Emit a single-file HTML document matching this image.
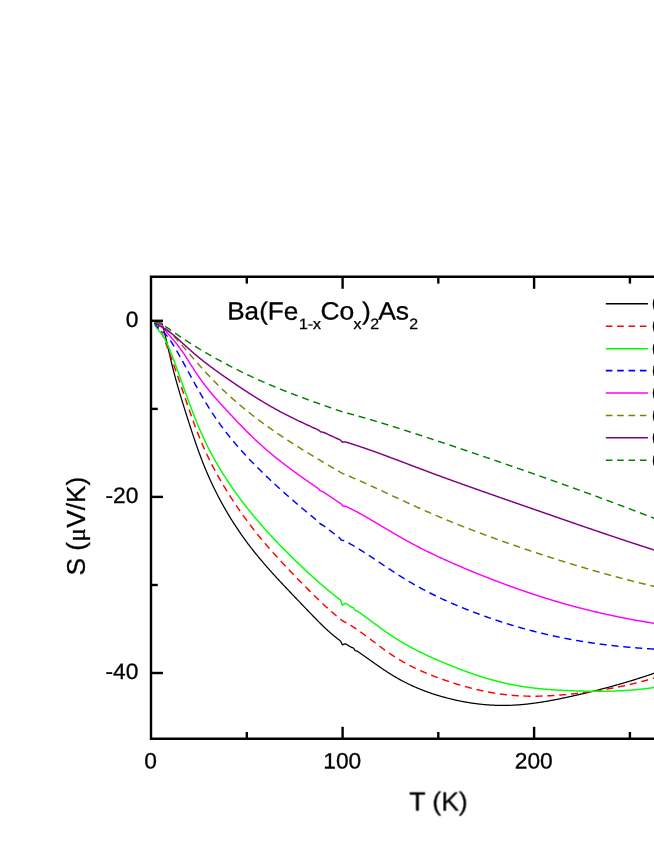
<!DOCTYPE html>
<html><head><meta charset="utf-8"><title>chart</title>
<style>html,body{margin:0;padding:0;background:#fff;overflow:hidden}svg{display:block}.t{filter:grayscale(1)}text{font-family:"Liberation Sans",sans-serif;fill:#000;stroke:#000;stroke-width:0.3px}</style></head>
<body>
<svg width="654" height="846" viewBox="0 0 654 846">
<rect width="654" height="846" fill="#fff"/>
<g fill="none" stroke-width="1.45" stroke-linejoin="round">
<path d="M161.5,322.45 L162.0,323.83 L162.5,325.37 L163.0,327.03 L163.5,328.80 L164.0,330.67 L164.5,332.61 L165.0,334.63 L165.5,336.70 L166.0,338.81 L166.5,340.96 L167.0,343.13 L167.5,345.32 L168.0,347.53 L168.5,349.73 L169.0,351.93 L169.5,354.12 L170.0,356.29 L170.5,358.45 L171.0,360.58 L171.5,362.68 L172.0,364.75 L172.5,366.78 L173.0,368.77 L173.5,370.74 L174.0,372.67 L174.5,374.57 L175.0,376.44 L175.5,378.29 L176.0,380.12 L176.5,381.92 L177.0,383.70 L177.5,385.46 L178.0,387.20 L178.5,388.93 L179.0,390.64 L179.5,392.33 L180.0,394.01 L180.5,395.68 L181.0,397.34 L181.5,398.99 L182.0,400.62 L182.5,402.25 L183.0,403.87 L183.5,405.48 L184.0,407.08 L184.5,408.68 L185.0,410.28 L185.5,411.87 L186.0,413.45 L186.5,415.03 L187.0,416.61 L187.5,418.19 L188.0,419.76 L188.5,421.32 L189.0,422.88 L189.5,424.43 L190.0,425.98 L190.5,427.52 L191.0,429.06 L191.5,430.58 L192.0,432.10 L192.5,433.61 L193.0,435.11 L193.5,436.60 L194.0,438.09 L194.5,439.56 L195.0,441.02 L195.5,442.48 L196.0,443.92 L196.5,445.36 L197.0,446.78 L197.5,448.19 L198.0,449.59 L198.5,450.98 L199.0,452.36 L199.5,453.72 L200.0,455.08 L200.5,456.42 L201.0,457.75 L201.5,459.06 L202.0,460.37 L202.5,461.66 L203.0,462.94 L203.5,464.20 L204.0,465.45 L204.5,466.69 L205.0,467.91 L205.5,469.13 L206.0,470.33 L206.5,471.51 L207.0,472.69 L207.5,473.85 L208.0,475.01 L208.5,476.15 L209.0,477.28 L209.5,478.40 L210.0,479.51 L210.5,480.61 L211.0,481.70 L211.5,482.77 L212.0,483.84 L212.5,484.90 L213.0,485.95 L213.5,487.00 L214.0,488.03 L214.5,489.05 L215.0,490.07 L215.5,491.07 L216.0,492.07 L216.5,493.06 L217.0,494.04 L217.5,495.02 L218.0,495.99 L218.5,496.95 L219.0,497.90 L219.5,498.84 L220.0,499.78 L220.5,500.71 L221.0,501.64 L221.5,502.55 L222.0,503.46 L222.5,504.37 L223.0,505.27 L223.5,506.16 L224.0,507.04 L224.5,507.92 L225.0,508.80 L225.5,509.67 L226.0,510.53 L226.5,511.39 L227.0,512.24 L227.5,513.09 L228.0,513.93 L228.5,514.76 L229.0,515.59 L229.5,516.42 L230.0,517.24 L230.5,518.05 L231.0,518.86 L231.5,519.67 L232.0,520.47 L232.5,521.26 L233.0,522.05 L233.5,522.84 L234.0,523.62 L234.5,524.40 L235.0,525.17 L235.5,525.94 L236.0,526.70 L236.5,527.46 L237.0,528.21 L237.5,528.96 L238.0,529.70 L238.5,530.44 L239.0,531.18 L239.5,531.91 L240.0,532.64 L240.5,533.37 L241.0,534.08 L241.5,534.80 L242.0,535.51 L242.5,536.22 L243.0,536.92 L243.5,537.62 L244.0,538.32 L244.5,539.01 L245.0,539.70 L245.5,540.39 L246.0,541.07 L246.5,541.75 L247.0,542.42 L247.5,543.09 L248.0,543.76 L248.5,544.42 L249.0,545.08 L249.5,545.74 L250.0,546.39 L250.5,547.04 L251.0,547.69 L251.5,548.33 L252.0,548.97 L252.5,549.61 L253.0,550.24 L253.5,550.87 L254.0,551.50 L254.5,552.13 L255.0,552.75 L255.5,553.37 L256.0,553.99 L256.5,554.60 L257.0,555.21 L257.5,555.82 L258.0,556.43 L258.5,557.03 L259.0,557.64 L259.5,558.24 L260.0,558.83 L260.5,559.43 L261.0,560.02 L261.5,560.61 L262.0,561.20 L262.5,561.79 L263.0,562.37 L263.5,562.96 L264.0,563.54 L264.5,564.12 L265.0,564.69 L265.5,565.27 L266.0,565.84 L266.5,566.41 L267.0,566.98 L267.5,567.55 L268.0,568.12 L268.5,568.69 L269.0,569.25 L269.5,569.81 L270.0,570.37 L270.5,570.93 L271.0,571.49 L271.5,572.05 L272.0,572.60 L272.5,573.16 L273.0,573.71 L273.5,574.26 L274.0,574.81 L274.5,575.36 L275.0,575.91 L275.5,576.46 L276.0,577.00 L276.5,577.55 L277.0,578.09 L277.5,578.64 L278.0,579.18 L278.5,579.72 L279.0,580.26 L279.5,580.80 L280.0,581.34 L280.5,581.88 L281.0,582.42 L281.5,582.95 L282.0,583.49 L282.5,584.02 L283.0,584.56 L283.5,585.09 L284.0,585.63 L284.5,586.16 L285.0,586.69 L285.5,587.22 L286.0,587.75 L286.5,588.28 L287.0,588.81 L287.5,589.34 L288.0,589.87 L288.5,590.40 L289.0,590.92 L289.5,591.45 L290.0,591.98 L290.5,592.50 L291.0,593.03 L291.5,593.55 L292.0,594.08 L292.5,594.60 L293.0,595.13 L293.5,595.65 L294.0,596.18 L294.5,596.70 L295.0,597.22 L295.5,597.74 L296.0,598.27 L296.5,598.79 L297.0,599.31 L297.5,599.83 L298.0,600.35 L298.5,600.88 L299.0,601.40 L299.5,601.92 L300.0,602.44 L300.5,602.96 L301.0,603.48 L301.5,604.00 L302.0,604.52 L302.5,605.04 L303.0,605.56 L303.5,606.08 L304.0,606.61 L304.5,607.13 L305.0,607.65 L305.5,608.17 L306.0,608.69 L306.5,609.21 L307.0,609.73 L307.5,610.25 L308.0,610.77 L308.5,611.29 L309.0,611.81 L309.5,612.33 L310.0,612.85 L310.5,613.37 L311.0,613.89 L311.5,614.41 L312.0,614.93 L312.5,615.45 L313.0,615.97 L313.5,616.48 L314.0,617.00 L314.5,617.51 L315.0,618.03 L315.5,618.54 L316.0,619.05 L316.5,619.56 L317.0,620.06 L317.5,620.57 L318.0,621.07 L318.5,621.58 L319.0,622.08 L319.5,622.58 L320.0,623.07 L320.5,623.57 L321.0,624.06 L321.5,624.55 L322.0,625.04 L322.5,625.53 L323.0,626.01 L323.5,626.49 L324.0,626.97 L324.5,627.45 L325.0,627.92 L325.5,628.39 L326.0,628.86 L326.5,629.32 L327.0,629.78 L327.5,630.24 L328.0,630.70 L328.5,631.15 L329.0,631.60 L329.5,632.04 L330.0,632.48 L330.5,632.92 L331.0,633.36 L331.5,633.79 L332.0,634.22 L332.5,634.64 L333.0,635.06 L333.5,635.48 L334.0,635.89 L334.5,636.30 L335.0,636.71 L335.5,637.11 L336.0,637.50 L336.5,637.89 L337.0,638.28 L337.5,638.67 L338.0,639.05 L338.5,639.42 L339.0,639.79 L339.5,640.16 L340.0,640.52 L340.5,641.14 L341.0,641.75 L341.5,642.93 L342.0,644.24 L342.5,644.91 L343.0,644.64 L343.5,644.38 L344.0,644.16 L344.5,644.03 L345.0,643.90 L345.5,643.85 L346.0,644.14 L346.5,644.42 L347.0,644.71 L347.5,645.01 L348.0,645.30 L348.5,645.60 L349.0,645.90 L349.5,646.20 L350.0,646.51 L350.5,646.82 L351.0,647.13 L351.5,647.44 L352.0,647.66 L352.5,647.73 L353.0,647.80 L353.5,648.01 L354.0,648.81 L354.5,649.61 L355.0,650.41 L355.5,650.78 L356.0,650.86 L356.5,650.94 L357.0,651.03 L357.5,651.37 L358.0,651.70 L358.5,652.04 L359.0,652.38 L359.5,652.73 L360.0,653.07 L360.5,653.41 L361.0,653.76 L361.5,654.11 L362.0,654.45 L362.5,654.80 L363.0,655.15 L363.5,655.50 L364.0,655.85 L364.5,656.20 L365.0,656.56 L365.5,656.91 L366.0,657.26 L366.5,657.62 L367.0,657.97 L367.5,658.33 L368.0,658.68 L368.5,659.04 L369.0,659.39 L369.5,659.75 L370.0,660.10 L370.5,660.46 L371.0,660.81 L371.5,661.17 L372.0,661.52 L372.5,661.88 L373.0,662.23 L373.5,662.58 L374.0,662.94 L374.5,663.29 L375.0,663.64 L375.5,664.00 L376.0,664.35 L376.5,664.70 L377.0,665.05 L377.5,665.40 L378.0,665.75 L378.5,666.10 L379.0,666.44 L379.5,666.79 L380.0,667.13 L380.5,667.48 L381.0,667.82 L381.5,668.16 L382.0,668.51 L382.5,668.84 L383.0,669.18 L383.5,669.52 L384.0,669.86 L384.5,670.19 L385.0,670.52 L385.5,670.85 L386.0,671.18 L386.5,671.51 L387.0,671.84 L387.5,672.16 L388.0,672.49 L388.5,672.81 L389.0,673.13 L389.5,673.45 L390.0,673.76 L390.5,674.08 L391.0,674.39 L391.5,674.70 L392.0,675.01 L392.5,675.31 L393.0,675.62 L393.5,675.92 L394.0,676.22 L394.5,676.51 L395.0,676.81 L395.5,677.10 L396.0,677.39 L396.5,677.68 L397.0,677.97 L397.5,678.25 L398.0,678.54 L398.5,678.82 L399.0,679.10 L399.5,679.37 L400.0,679.65 L400.5,679.92 L401.0,680.19 L401.5,680.46 L402.0,680.73 L402.5,680.99 L403.0,681.25 L403.5,681.51 L404.0,681.77 L404.5,682.03 L405.0,682.29 L405.5,682.54 L406.0,682.79 L406.5,683.04 L407.0,683.29 L407.5,683.53 L408.0,683.78 L408.5,684.02 L409.0,684.26 L409.5,684.50 L410.0,684.74 L410.5,684.97 L411.0,685.21 L411.5,685.44 L412.0,685.67 L412.5,685.90 L413.0,686.12 L413.5,686.35 L414.0,686.57 L414.5,686.79 L415.0,687.01 L415.5,687.23 L416.0,687.45 L416.5,687.66 L417.0,687.87 L417.5,688.08 L418.0,688.29 L418.5,688.50 L419.0,688.71 L419.5,688.91 L420.0,689.12 L420.5,689.32 L421.0,689.52 L421.5,689.72 L422.0,689.92 L422.5,690.11 L423.0,690.31 L423.5,690.50 L424.0,690.69 L424.5,690.88 L425.0,691.07 L425.5,691.25 L426.0,691.44 L426.5,691.62 L427.0,691.81 L427.5,691.99 L428.0,692.17 L428.5,692.34 L429.0,692.52 L429.5,692.70 L430.0,692.87 L430.5,693.04 L431.0,693.21 L431.5,693.38 L432.0,693.55 L432.5,693.72 L433.0,693.88 L433.5,694.05 L434.0,694.21 L434.5,694.37 L435.0,694.53 L435.5,694.69 L436.0,694.85 L436.5,695.00 L437.0,695.16 L437.5,695.31 L438.0,695.47 L438.5,695.62 L439.0,695.77 L439.5,695.91 L440.0,696.06 L440.5,696.21 L441.0,696.35 L441.5,696.50 L442.0,696.64 L442.5,696.78 L443.0,696.92 L443.5,697.06 L444.0,697.20 L444.5,697.33 L445.0,697.47 L445.5,697.60 L446.0,697.74 L446.5,697.87 L447.0,698.00 L447.5,698.13 L448.0,698.26 L448.5,698.38 L449.0,698.51 L449.5,698.64 L450.0,698.76 L450.5,698.88 L451.0,699.00 L451.5,699.13 L452.0,699.25 L452.5,699.36 L453.0,699.48 L453.5,699.60 L454.0,699.71 L454.5,699.83 L455.0,699.94 L455.5,700.05 L456.0,700.16 L456.5,700.27 L457.0,700.38 L457.5,700.49 L458.0,700.59 L458.5,700.70 L459.0,700.80 L459.5,700.91 L460.0,701.01 L460.5,701.11 L461.0,701.21 L461.5,701.31 L462.0,701.40 L462.5,701.50 L463.0,701.60 L463.5,701.69 L464.0,701.78 L464.5,701.87 L465.0,701.96 L465.5,702.05 L466.0,702.14 L466.5,702.23 L467.0,702.31 L467.5,702.40 L468.0,702.48 L468.5,702.57 L469.0,702.65 L469.5,702.73 L470.0,702.81 L470.5,702.88 L471.0,702.96 L471.5,703.04 L472.0,703.11 L472.5,703.18 L473.0,703.26 L473.5,703.33 L474.0,703.40 L474.5,703.46 L475.0,703.53 L475.5,703.60 L476.0,703.66 L476.5,703.73 L477.0,703.79 L477.5,703.85 L478.0,703.91 L478.5,703.97 L479.0,704.03 L479.5,704.09 L480.0,704.14 L480.5,704.20 L481.0,704.25 L481.5,704.30 L482.0,704.35 L482.5,704.40 L483.0,704.45 L483.5,704.50 L484.0,704.55 L484.5,704.59 L485.0,704.63 L485.5,704.68 L486.0,704.72 L486.5,704.76 L487.0,704.80 L487.5,704.84 L488.0,704.87 L488.5,704.91 L489.0,704.94 L489.5,704.98 L490.0,705.01 L490.5,705.04 L491.0,705.07 L491.5,705.10 L492.0,705.12 L492.5,705.15 L493.0,705.18 L493.5,705.20 L494.0,705.22 L494.5,705.24 L495.0,705.26 L495.5,705.28 L496.0,705.30 L496.5,705.32 L497.0,705.33 L497.5,705.35 L498.0,705.36 L498.5,705.37 L499.0,705.38 L499.5,705.39 L500.0,705.40 L500.5,705.40 L501.0,705.41 L501.5,705.41 L502.0,705.42 L502.5,705.42 L503.0,705.42 L503.5,705.42 L504.0,705.42 L504.5,705.42 L505.0,705.41 L505.5,705.41 L506.0,705.40 L506.5,705.39 L507.0,705.38 L507.5,705.37 L508.0,705.36 L508.5,705.35 L509.0,705.33 L509.5,705.32 L510.0,705.30 L510.5,705.29 L511.0,705.27 L511.5,705.25 L512.0,705.23 L512.5,705.20 L513.0,705.18 L513.5,705.16 L514.0,705.13 L514.5,705.10 L515.0,705.07 L515.5,705.04 L516.0,705.01 L516.5,704.98 L517.0,704.95 L517.5,704.91 L518.0,704.88 L518.5,704.84 L519.0,704.81 L519.5,704.77 L520.0,704.73 L520.5,704.69 L521.0,704.64 L521.5,704.60 L522.0,704.56 L522.5,704.51 L523.0,704.47 L523.5,704.42 L524.0,704.37 L524.5,704.32 L525.0,704.27 L525.5,704.22 L526.0,704.17 L526.5,704.12 L527.0,704.06 L527.5,704.01 L528.0,703.95 L528.5,703.89 L529.0,703.84 L529.5,703.78 L530.0,703.72 L530.5,703.66 L531.0,703.60 L531.5,703.53 L532.0,703.47 L532.5,703.41 L533.0,703.34 L533.5,703.28 L534.0,703.21 L534.5,703.14 L535.0,703.07 L535.5,703.00 L536.0,702.93 L536.5,702.86 L537.0,702.79 L537.5,702.72 L538.0,702.65 L538.5,702.57 L539.0,702.50 L539.5,702.42 L540.0,702.34 L540.5,702.27 L541.0,702.19 L541.5,702.11 L542.0,702.03 L542.5,701.95 L543.0,701.87 L543.5,701.79 L544.0,701.71 L544.5,701.62 L545.0,701.54 L545.5,701.46 L546.0,701.37 L546.5,701.28 L547.0,701.20 L547.5,701.11 L548.0,701.02 L548.5,700.94 L549.0,700.85 L549.5,700.76 L550.0,700.67 L550.5,700.58 L551.0,700.48 L551.5,700.39 L552.0,700.30 L552.5,700.21 L553.0,700.11 L553.5,700.02 L554.0,699.92 L554.5,699.83 L555.0,699.73 L555.5,699.63 L556.0,699.54 L556.5,699.44 L557.0,699.34 L557.5,699.24 L558.0,699.14 L558.5,699.04 L559.0,698.94 L559.5,698.84 L560.0,698.74 L560.5,698.64 L561.0,698.54 L561.5,698.43 L562.0,698.33 L562.5,698.23 L563.0,698.12 L563.5,698.02 L564.0,697.91 L564.5,697.81 L565.0,697.70 L565.5,697.59 L566.0,697.49 L566.5,697.38 L567.0,697.27 L567.5,697.16 L568.0,697.06 L568.5,696.95 L569.0,696.84 L569.5,696.73 L570.0,696.62 L570.5,696.51 L571.0,696.40 L571.5,696.29 L572.0,696.17 L572.5,696.06 L573.0,695.95 L573.5,695.84 L574.0,695.73 L574.5,695.61 L575.0,695.50 L575.5,695.39 L576.0,695.27 L576.5,695.16 L577.0,695.04 L577.5,694.93 L578.0,694.81 L578.5,694.70 L579.0,694.58 L579.5,694.47 L580.0,694.35 L580.5,694.23 L581.0,694.12 L581.5,694.00 L582.0,693.88 L582.5,693.77 L583.0,693.65 L583.5,693.53 L584.0,693.41 L584.5,693.29 L585.0,693.18 L585.5,693.06 L586.0,692.94 L586.5,692.82 L587.0,692.70 L587.5,692.58 L588.0,692.46 L588.5,692.34 L589.0,692.22 L589.5,692.09 L590.0,691.97 L590.5,691.85 L591.0,691.73 L591.5,691.61 L592.0,691.48 L592.5,691.36 L593.0,691.24 L593.5,691.11 L594.0,690.99 L594.5,690.86 L595.0,690.74 L595.5,690.61 L596.0,690.49 L596.5,690.36 L597.0,690.24 L597.5,690.11 L598.0,689.99 L598.5,689.86 L599.0,689.73 L599.5,689.60 L600.0,689.48 L600.5,689.35 L601.0,689.22 L601.5,689.09 L602.0,688.96 L602.5,688.83 L603.0,688.70 L603.5,688.57 L604.0,688.44 L604.5,688.31 L605.0,688.18 L605.5,688.04 L606.0,687.91 L606.5,687.78 L607.0,687.65 L607.5,687.51 L608.0,687.38 L608.5,687.25 L609.0,687.11 L609.5,686.98 L610.0,686.84 L610.5,686.71 L611.0,686.57 L611.5,686.43 L612.0,686.30 L612.5,686.16 L613.0,686.02 L613.5,685.89 L614.0,685.75 L614.5,685.61 L615.0,685.47 L615.5,685.33 L616.0,685.19 L616.5,685.05 L617.0,684.91 L617.5,684.77 L618.0,684.63 L618.5,684.48 L619.0,684.34 L619.5,684.20 L620.0,684.06 L620.5,683.91 L621.0,683.77 L621.5,683.62 L622.0,683.48 L622.5,683.33 L623.0,683.19 L623.5,683.04 L624.0,682.90 L624.5,682.75 L625.0,682.60 L625.5,682.45 L626.0,682.31 L626.5,682.16 L627.0,682.01 L627.5,681.86 L628.0,681.71 L628.5,681.56 L629.0,681.41 L629.5,681.26 L630.0,681.10 L630.5,680.95 L631.0,680.80 L631.5,680.65 L632.0,680.49 L632.5,680.34 L633.0,680.18 L633.5,680.03 L634.0,679.87 L634.5,679.72 L635.0,679.56 L635.5,679.40 L636.0,679.25 L636.5,679.09 L637.0,678.93 L637.5,678.77 L638.0,678.61 L638.5,678.45 L639.0,678.29 L639.5,678.13 L640.0,677.97 L640.5,677.81 L641.0,677.65 L641.5,677.48 L642.0,677.32 L642.5,677.16 L643.0,676.99 L643.5,676.83 L644.0,676.66 L644.5,676.50 L645.0,676.33 L645.5,676.16 L646.0,676.00 L646.5,675.83 L647.0,675.66 L647.5,675.49 L648.0,675.32 L648.5,675.15 L649.0,674.98 L649.5,674.81 L650.0,674.64 L650.5,674.47 L651.0,674.30 L651.5,674.13 L652.0,673.95 L652.5,673.78 L653.0,673.60 L653.5,673.43 L654.0,673.25 L654.5,673.08 L655.0,672.90 L655.5,672.72" stroke="#000000" stroke-width="1.25"/>
<path d="M154.6,322.50 L155.1,322.14 L155.6,322.07 L156.1,322.23 L156.6,322.60 L157.1,323.13 L157.6,323.80 L158.1,324.59 L158.6,325.48 L159.1,326.45 L159.6,327.49 L160.1,328.60 L160.6,329.75 L161.1,330.95 L161.6,332.18 L162.1,333.45 L162.6,334.73 L163.1,336.03 L163.6,337.35 L164.1,338.67 L164.6,340.00 L165.1,341.33 L165.6,342.67 L166.1,344.00 L166.6,345.34 L167.1,346.69 L167.6,348.03 L168.1,349.38 L168.6,350.74 L169.1,352.10 L169.6,353.46 L170.1,354.82 L170.6,356.19 L171.1,357.57 L171.6,358.94 L172.1,360.33 L172.6,361.71 L173.1,363.11 L173.6,364.50 L174.1,365.90 L174.6,367.31 L175.1,368.72 L175.6,370.13 L176.1,371.55 L176.6,372.98 L177.1,374.41 L177.6,375.84 L178.1,377.28 L178.6,378.72 L179.1,380.17 L179.6,381.63 L180.1,383.09 L180.6,384.55 L181.1,386.02 L181.6,387.49 L182.1,388.96 L182.6,390.44 L183.1,391.92 L183.6,393.39 L184.1,394.87 L184.6,396.35 L185.1,397.82 L185.6,399.29 L186.1,400.76 L186.6,402.23 L187.1,403.69 L187.6,405.14 L188.1,406.60 L188.6,408.04 L189.1,409.49 L189.6,410.92 L190.1,412.35 L190.6,413.77 L191.1,415.18 L191.6,416.59 L192.1,417.99 L192.6,419.38 L193.1,420.76 L193.6,422.13 L194.1,423.49 L194.6,424.84 L195.1,426.19 L195.6,427.52 L196.1,428.84 L196.6,430.15 L197.1,431.45 L197.6,432.74 L198.1,434.02 L198.6,435.28 L199.1,436.53 L199.6,437.78 L200.0,438.76 L200.5,439.98 L201.0,441.19 L201.5,442.38 L202.0,443.56 L202.5,444.73 L203.0,445.88 L203.5,447.03 L204.0,448.16 L204.5,449.28 L205.0,450.39 L205.5,451.49 L206.0,452.58 L206.5,453.65 L207.0,454.72 L207.5,455.78 L208.0,456.83 L208.5,457.86 L209.0,458.89 L209.5,459.91 L210.0,460.92 L210.5,461.93 L211.0,462.92 L211.5,463.90 L212.0,464.88 L212.5,465.85 L213.0,466.81 L213.5,467.77 L214.0,468.71 L214.5,469.65 L215.0,470.59 L215.5,471.51 L216.0,472.43 L216.5,473.34 L217.0,474.25 L217.5,475.15 L218.0,476.04 L218.5,476.93 L219.0,477.81 L219.5,478.69 L220.0,479.56 L220.5,480.42 L221.0,481.28 L221.5,482.14 L222.0,482.99 L222.5,483.83 L223.0,484.67 L223.5,485.51 L224.0,486.34 L224.5,487.16 L225.0,487.99 L225.5,488.80 L226.0,489.62 L226.5,490.43 L227.0,491.23 L227.5,492.04 L228.0,492.83 L228.5,493.63 L229.0,494.42 L229.5,495.21 L230.0,495.99 L230.5,496.77 L231.0,497.55 L231.5,498.32 L232.0,499.09 L232.5,499.86 L233.0,500.62 L233.5,501.38 L234.0,502.14 L234.5,502.90 L235.0,503.65 L235.5,504.39 L236.0,505.14 L236.5,505.88 L237.0,506.62 L237.5,507.35 L238.0,508.08 L238.5,508.81 L239.0,509.54 L239.5,510.26 L240.0,510.98 L240.5,511.69 L241.0,512.41 L241.5,513.12 L242.0,513.82 L242.5,514.53 L243.0,515.23 L243.5,515.93 L244.0,516.62 L244.5,517.32 L245.0,518.01 L245.5,518.69 L246.0,519.38 L246.5,520.06 L247.0,520.74 L247.5,521.41 L248.0,522.08 L248.5,522.75 L249.0,523.42 L249.5,524.09 L250.0,524.75 L250.5,525.41 L251.0,526.06 L251.5,526.72 L252.0,527.37 L252.5,528.02 L253.0,528.66 L253.5,529.31 L254.0,529.95 L254.5,530.59 L255.0,531.22 L255.5,531.86 L256.0,532.49 L256.5,533.11 L257.0,533.74 L257.5,534.36 L258.0,534.98 L258.5,535.60 L259.0,536.22 L259.5,536.83 L260.0,537.44 L260.5,538.05 L261.0,538.66 L261.5,539.26 L262.0,539.86 L262.5,540.46 L263.0,541.06 L263.5,541.65 L264.0,542.25 L264.5,542.84 L265.0,543.42 L265.5,544.01 L266.0,544.59 L266.5,545.18 L267.0,545.76 L267.5,546.33 L268.0,546.91 L268.5,547.49 L269.0,548.06 L269.5,548.63 L270.0,549.20 L270.5,549.77 L271.0,550.33 L271.5,550.90 L272.0,551.46 L272.5,552.02 L273.0,552.58 L273.5,553.14 L274.0,553.69 L274.5,554.25 L275.0,554.80 L275.5,555.35 L276.0,555.91 L276.5,556.45 L277.0,557.00 L277.5,557.55 L278.0,558.10 L278.5,558.64 L279.0,559.18 L279.5,559.72 L280.0,560.27 L280.5,560.81 L281.0,561.34 L281.5,561.88 L282.0,562.42 L282.5,562.95 L283.0,563.49 L283.5,564.02 L284.0,564.55 L284.5,565.09 L285.0,565.62 L285.5,566.15 L286.0,566.67 L286.5,567.20 L287.0,567.73 L287.5,568.26 L288.0,568.78 L288.5,569.31 L289.0,569.83 L289.5,570.36 L290.0,570.88 L290.5,571.40 L291.0,571.92 L291.5,572.44 L292.0,572.96 L292.5,573.48 L293.0,574.00 L293.5,574.52 L294.0,575.04 L294.5,575.56 L295.0,576.08 L295.5,576.59 L296.0,577.11 L296.5,577.63 L297.0,578.14 L297.5,578.66 L298.0,579.17 L298.5,579.69 L299.0,580.20 L299.5,580.72 L300.0,581.23 L300.5,581.74 L301.0,582.25 L301.5,582.77 L302.0,583.28 L302.5,583.79 L303.0,584.30 L303.5,584.81 L304.0,585.32 L304.5,585.83 L305.0,586.34 L305.5,586.85 L306.0,587.35 L306.5,587.86 L307.0,588.36 L307.5,588.87 L308.0,589.37 L308.5,589.87 L309.0,590.38 L309.5,590.88 L310.0,591.38 L310.5,591.88 L311.0,592.38 L311.5,592.87 L312.0,593.37 L312.5,593.86 L313.0,594.36 L313.5,594.85 L314.0,595.34 L314.5,595.83 L315.0,596.32 L315.5,596.81 L316.0,597.30 L316.5,597.78 L317.0,598.27 L317.5,598.75 L318.0,599.23 L318.5,599.71 L319.0,600.19 L319.5,600.67 L320.0,601.15 L320.5,601.62 L321.0,602.10 L321.5,602.57 L322.0,603.04 L322.5,603.51 L323.0,603.98 L323.5,604.44 L324.0,604.91 L324.5,605.37 L325.0,605.83 L325.5,606.29 L326.0,606.75 L326.5,607.21 L327.0,607.66 L327.5,608.11 L328.0,608.57 L328.5,609.02 L329.0,609.46 L329.5,609.91 L330.0,610.35 L330.5,610.80 L331.0,611.24 L331.5,611.68 L332.0,612.11 L332.5,612.55 L333.0,612.98 L333.5,613.41 L334.0,613.84 L334.5,614.27 L335.0,614.70 L335.5,615.12 L336.0,615.54 L336.5,615.96 L337.0,616.38 L337.5,616.80 L338.0,617.21 L338.5,617.62 L339.0,618.03 L339.5,618.44 L340.0,618.84 L340.5,619.25 L341.0,619.65 L341.5,620.05 L342.0,620.45 L342.5,620.78 L343.0,621.02 L343.5,621.27 L344.0,621.53 L344.5,621.79 L345.0,622.05 L345.5,622.32 L346.0,622.59 L346.5,622.87 L347.0,623.15 L347.5,623.43 L348.0,623.72 L348.5,624.01 L349.0,624.31 L349.5,624.61 L350.0,624.91 L350.5,625.22 L351.0,625.53 L351.5,625.84 L352.0,626.16 L352.5,626.48 L353.0,626.80 L353.5,627.13 L354.0,627.46 L354.5,627.79 L355.0,628.12 L355.5,628.46 L356.0,628.80 L356.5,629.14 L357.0,629.48 L357.5,629.83 L358.0,630.18 L358.5,630.53 L359.0,630.88 L359.5,631.23 L360.0,631.59 L360.5,631.95 L361.0,632.31 L361.5,632.67 L362.0,633.03 L362.5,633.39 L363.0,633.76 L363.5,634.13 L364.0,634.49 L364.5,634.86 L365.0,635.23 L365.5,635.61 L366.0,635.98 L366.5,636.35 L367.0,636.73 L367.5,637.10 L368.0,637.48 L368.5,637.85 L369.0,638.23 L369.5,638.61 L370.0,638.98 L370.5,639.36 L371.0,639.74 L371.5,640.12 L372.0,640.50 L372.5,640.88 L373.0,641.25 L373.5,641.63 L374.0,642.01 L374.5,642.39 L375.0,642.77 L375.5,643.14 L376.0,643.52 L376.5,643.90 L377.0,644.27 L377.5,644.65 L378.0,645.02 L378.5,645.40 L379.0,645.77 L379.5,646.14 L380.0,646.52 L380.5,646.89 L381.0,647.26 L381.5,647.62 L382.0,647.99 L382.5,648.36 L383.0,648.72 L383.5,649.09 L384.0,649.45 L384.5,649.81 L385.0,650.17 L385.5,650.53 L386.0,650.89 L386.5,651.24 L387.0,651.59 L387.5,651.94 L388.0,652.29 L388.5,652.64 L389.0,652.99 L389.5,653.33 L390.0,653.67 L390.5,654.01 L391.0,654.35 L391.5,654.69 L392.0,655.02 L392.5,655.35 L393.0,655.68 L393.5,656.01 L394.0,656.33 L394.5,656.65 L395.0,656.97 L395.5,657.29 L396.0,657.60 L396.5,657.92 L397.0,658.23 L397.5,658.54 L398.0,658.84 L398.5,659.15 L399.0,659.45 L399.5,659.75 L400.0,660.04 L400.5,660.34 L401.0,660.63 L401.5,660.93 L402.0,661.21 L402.5,661.50 L403.0,661.79 L403.5,662.07 L404.0,662.35 L404.5,662.63 L405.0,662.91 L405.5,663.19 L406.0,663.46 L406.5,663.73 L407.0,664.00 L407.5,664.27 L408.0,664.54 L408.5,664.80 L409.0,665.06 L409.5,665.32 L410.0,665.58 L410.5,665.84 L411.0,666.10 L411.5,666.35 L412.0,666.60 L412.5,666.85 L413.0,667.10 L413.5,667.35 L414.0,667.59 L414.5,667.84 L415.0,668.08 L415.5,668.32 L416.0,668.56 L416.5,668.80 L417.0,669.04 L417.5,669.27 L418.0,669.50 L418.5,669.74 L419.0,669.97 L419.5,670.19 L420.0,670.42 L420.5,670.65 L421.0,670.87 L421.5,671.09 L422.0,671.32 L422.5,671.54 L423.0,671.76 L423.5,671.97 L424.0,672.19 L424.5,672.40 L425.0,672.62 L425.5,672.83 L426.0,673.04 L426.5,673.25 L427.0,673.46 L427.5,673.67 L428.0,673.87 L428.5,674.08 L429.0,674.28 L429.5,674.48 L430.0,674.68 L430.5,674.88 L431.0,675.08 L431.5,675.28 L432.0,675.48 L432.5,675.67 L433.0,675.87 L433.5,676.06 L434.0,676.25 L434.5,676.44 L435.0,676.63 L435.5,676.82 L436.0,677.01 L436.5,677.20 L437.0,677.38 L437.5,677.57 L438.0,677.75 L438.5,677.93 L439.0,678.12 L439.5,678.30 L440.0,678.48 L440.5,678.66 L441.0,678.84 L441.5,679.01 L442.0,679.19 L442.5,679.37 L443.0,679.54 L443.5,679.72 L444.0,679.89 L444.5,680.06 L445.0,680.23 L445.5,680.40 L446.0,680.57 L446.5,680.74 L447.0,680.91 L447.5,681.08 L448.0,681.25 L448.5,681.41 L449.0,681.58 L449.5,681.74 L450.0,681.91 L450.5,682.07 L451.0,682.23 L451.5,682.39 L452.0,682.56 L452.5,682.72 L453.0,682.88 L453.5,683.03 L454.0,683.19 L454.5,683.35 L455.0,683.51 L455.5,683.66 L456.0,683.82 L456.5,683.97 L457.0,684.13 L457.5,684.28 L458.0,684.43 L458.5,684.58 L459.0,684.73 L459.5,684.88 L460.0,685.03 L460.5,685.18 L461.0,685.33 L461.5,685.47 L462.0,685.62 L462.5,685.76 L463.0,685.91 L463.5,686.05 L464.0,686.19 L464.5,686.33 L465.0,686.47 L465.5,686.61 L466.0,686.75 L466.5,686.89 L467.0,687.03 L467.5,687.16 L468.0,687.30 L468.5,687.43 L469.0,687.57 L469.5,687.70 L470.0,687.83 L470.5,687.96 L471.0,688.09 L471.5,688.22 L472.0,688.35 L472.5,688.48 L473.0,688.60 L473.5,688.73 L474.0,688.85 L474.5,688.98 L475.0,689.10 L475.5,689.22 L476.0,689.34 L476.5,689.46 L477.0,689.58 L477.5,689.70 L478.0,689.82 L478.5,689.93 L479.0,690.05 L479.5,690.16 L480.0,690.27 L480.5,690.39 L481.0,690.50 L481.5,690.61 L482.0,690.72 L482.5,690.82 L483.0,690.93 L483.5,691.04 L484.0,691.14 L484.5,691.25 L485.0,691.35 L485.5,691.45 L486.0,691.55 L486.5,691.65 L487.0,691.75 L487.5,691.85 L488.0,691.95 L488.5,692.04 L489.0,692.14 L489.5,692.23 L490.0,692.33 L490.5,692.42 L491.0,692.51 L491.5,692.60 L492.0,692.69 L492.5,692.78 L493.0,692.86 L493.5,692.95 L494.0,693.03 L494.5,693.12 L495.0,693.20 L495.5,693.28 L496.0,693.36 L496.5,693.44 L497.0,693.52 L497.5,693.59 L498.0,693.67 L498.5,693.74 L499.0,693.82 L499.5,693.89 L500.0,693.96 L500.5,694.03 L501.0,694.10 L501.5,694.17 L502.0,694.24 L502.5,694.30 L503.0,694.37 L503.5,694.43 L504.0,694.49 L504.5,694.55 L505.0,694.61 L505.5,694.67 L506.0,694.73 L506.5,694.79 L507.0,694.84 L507.5,694.90 L508.0,694.95 L508.5,695.00 L509.0,695.05 L509.5,695.10 L510.0,695.15 L510.5,695.20 L511.0,695.25 L511.5,695.29 L512.0,695.33 L512.5,695.38 L513.0,695.42 L513.5,695.46 L514.0,695.50 L514.5,695.54 L515.0,695.57 L515.5,695.61 L516.0,695.64 L516.5,695.68 L517.0,695.71 L517.5,695.74 L518.0,695.77 L518.5,695.80 L519.0,695.83 L519.5,695.86 L520.0,695.88 L520.5,695.91 L521.0,695.93 L521.5,695.95 L522.0,695.98 L522.5,696.00 L523.0,696.02 L523.5,696.04 L524.0,696.05 L524.5,696.07 L525.0,696.09 L525.5,696.10 L526.0,696.11 L526.5,696.13 L527.0,696.14 L527.5,696.15 L528.0,696.16 L528.5,696.17 L529.0,696.18 L529.5,696.18 L530.0,696.19 L530.5,696.19 L531.0,696.20 L531.5,696.20 L532.0,696.20 L532.5,696.20 L533.0,696.21 L533.5,696.20 L534.0,696.20 L534.5,696.20 L535.0,696.20 L535.5,696.19 L536.0,696.19 L536.5,696.18 L537.0,696.18 L537.5,696.17 L538.0,696.16 L538.5,696.15 L539.0,696.14 L539.5,696.13 L540.0,696.12 L540.5,696.11 L541.0,696.10 L541.5,696.08 L542.0,696.07 L542.5,696.05 L543.0,696.04 L543.5,696.02 L544.0,696.00 L544.5,695.98 L545.0,695.96 L545.5,695.94 L546.0,695.92 L546.5,695.90 L547.0,695.88 L547.5,695.85 L548.0,695.83 L548.5,695.81 L549.0,695.78 L549.5,695.75 L550.0,695.73 L550.5,695.70 L551.0,695.67 L551.5,695.64 L552.0,695.61 L552.5,695.58 L553.0,695.55 L553.5,695.52 L554.0,695.49 L554.5,695.46 L555.0,695.42 L555.5,695.39 L556.0,695.35 L556.5,695.32 L557.0,695.28 L557.5,695.24 L558.0,695.21 L558.5,695.17 L559.0,695.13 L559.5,695.09 L560.0,695.05 L560.5,695.01 L561.0,694.97 L561.5,694.93 L562.0,694.89 L562.5,694.84 L563.0,694.80 L563.5,694.76 L564.0,694.71 L564.5,694.67 L565.0,694.62 L565.5,694.58 L566.0,694.53 L566.5,694.48 L567.0,694.43 L567.5,694.39 L568.0,694.34 L568.5,694.29 L569.0,694.24 L569.5,694.19 L570.0,694.14 L570.5,694.08 L571.0,694.03 L571.5,693.98 L572.0,693.93 L572.5,693.87 L573.0,693.82 L573.5,693.77 L574.0,693.71 L574.5,693.66 L575.0,693.60 L575.5,693.54 L576.0,693.49 L576.5,693.43 L577.0,693.37 L577.5,693.31 L578.0,693.26 L578.5,693.20 L579.0,693.14 L579.5,693.08 L580.0,693.02 L580.5,692.96 L581.0,692.90 L581.5,692.84 L582.0,692.77 L582.5,692.71 L583.0,692.65 L583.5,692.59 L584.0,692.52 L584.5,692.46 L585.0,692.39 L585.5,692.33 L586.0,692.26 L586.5,692.20 L587.0,692.13 L587.5,692.06 L588.0,692.00 L588.5,691.93 L589.0,691.86 L589.5,691.79 L590.0,691.72 L590.5,691.65 L591.0,691.58 L591.5,691.51 L592.0,691.44 L592.5,691.37 L593.0,691.30 L593.5,691.23 L594.0,691.15 L594.5,691.08 L595.0,691.01 L595.5,690.93 L596.0,690.86 L596.5,690.78 L597.0,690.71 L597.5,690.63 L598.0,690.55 L598.5,690.48 L599.0,690.40 L599.5,690.32 L600.0,690.24 L600.5,690.16 L601.0,690.08 L601.5,690.00 L602.0,689.92 L602.5,689.84 L603.0,689.75 L603.5,689.67 L604.0,689.59 L604.5,689.50 L605.0,689.42 L605.5,689.33 L606.0,689.25 L606.5,689.16 L607.0,689.08 L607.5,688.99 L608.0,688.90 L608.5,688.81 L609.0,688.72 L609.5,688.63 L610.0,688.54 L610.5,688.45 L611.0,688.36 L611.5,688.27 L612.0,688.18 L612.5,688.08 L613.0,687.99 L613.5,687.90 L614.0,687.80 L614.5,687.71 L615.0,687.61 L615.5,687.51 L616.0,687.42 L616.5,687.32 L617.0,687.22 L617.5,687.12 L618.0,687.02 L618.5,686.92 L619.0,686.82 L619.5,686.72 L620.0,686.62 L620.5,686.51 L621.0,686.41 L621.5,686.31 L622.0,686.20 L622.5,686.09 L623.0,685.99 L623.5,685.88 L624.0,685.77 L624.5,685.67 L625.0,685.56 L625.5,685.45 L626.0,685.34 L626.5,685.23 L627.0,685.12 L627.5,685.01 L628.0,684.89 L628.5,684.78 L629.0,684.67 L629.5,684.55 L630.0,684.44 L630.5,684.32 L631.0,684.20 L631.5,684.09 L632.0,683.97 L632.5,683.85 L633.0,683.73 L633.5,683.61 L634.0,683.49 L634.5,683.37 L635.0,683.25 L635.5,683.12 L636.0,683.00 L636.5,682.88 L637.0,682.75 L637.5,682.63 L638.0,682.50 L638.5,682.37 L639.0,682.24 L639.5,682.12 L640.0,681.99 L640.5,681.86 L641.0,681.73 L641.5,681.60 L642.0,681.46 L642.5,681.33 L643.0,681.20 L643.5,681.06 L644.0,680.93 L644.5,680.79 L645.0,680.66 L645.5,680.52 L646.0,680.38 L646.5,680.24 L647.0,680.10 L647.5,679.96 L648.0,679.82 L648.5,679.68 L649.0,679.54 L649.5,679.40 L650.0,679.25 L650.5,679.11 L651.0,678.96 L651.5,678.82 L652.0,678.67 L652.5,678.52 L653.0,678.37 L653.5,678.23 L654.0,678.08 L654.5,677.93 L655.0,677.77 L655.5,677.62" stroke="#ff0000" stroke-dasharray="7.1 4.8"/>
<path d="M154.6,324.49 L155.1,325.48 L155.6,326.34 L156.1,327.11 L156.6,327.82 L157.1,328.47 L157.6,329.09 L158.1,329.68 L158.6,330.27 L159.1,330.86 L159.6,331.45 L160.1,332.05 L160.6,332.67 L161.1,333.32 L161.6,333.99 L162.1,334.69 L162.6,335.42 L163.1,336.19 L163.6,336.99 L164.1,337.84 L164.6,338.73 L165.1,339.65 L165.6,340.62 L166.1,341.63 L166.6,342.67 L167.1,343.74 L167.6,344.83 L168.1,345.96 L168.6,347.11 L169.1,348.29 L169.6,349.48 L170.1,350.70 L170.6,351.93 L171.1,353.18 L171.6,354.45 L172.1,355.73 L172.6,357.03 L173.1,358.34 L173.6,359.65 L174.1,360.98 L174.6,362.32 L175.1,363.67 L175.6,365.03 L176.1,366.40 L176.6,367.77 L177.1,369.14 L177.6,370.53 L178.1,371.91 L178.6,373.31 L179.1,374.70 L179.6,376.10 L180.1,377.50 L180.6,378.90 L181.1,380.31 L181.6,381.72 L182.1,383.12 L182.6,384.53 L183.1,385.93 L183.6,387.34 L184.1,388.74 L184.6,390.14 L185.1,391.54 L185.6,392.93 L186.1,394.32 L186.6,395.71 L187.1,397.09 L187.6,398.46 L188.1,399.83 L188.6,401.20 L189.1,402.56 L189.6,403.91 L190.1,405.25 L190.6,406.59 L191.1,407.92 L191.6,409.24 L192.1,410.56 L192.6,411.87 L193.1,413.17 L193.6,414.46 L194.1,415.74 L194.6,417.01 L195.1,418.27 L195.6,419.52 L196.1,420.77 L196.6,422.00 L197.1,423.23 L197.6,424.44 L198.1,425.64 L198.6,426.83 L199.1,428.02 L199.6,429.19 L200.0,430.12 L200.5,431.27 L201.0,432.41 L201.5,433.53 L202.0,434.65 L202.5,435.76 L203.0,436.85 L203.5,437.93 L204.0,439.01 L204.5,440.07 L205.0,441.12 L205.5,442.16 L206.0,443.20 L206.5,444.22 L207.0,445.23 L207.5,446.24 L208.0,447.24 L208.5,448.22 L209.0,449.20 L209.5,450.17 L210.0,451.14 L210.5,452.09 L211.0,453.04 L211.5,453.98 L212.0,454.91 L212.5,455.83 L213.0,456.75 L213.5,457.66 L214.0,458.56 L214.5,459.45 L215.0,460.34 L215.5,461.23 L216.0,462.10 L216.5,462.97 L217.0,463.84 L217.5,464.69 L218.0,465.54 L218.5,466.39 L219.0,467.23 L219.5,468.07 L220.0,468.89 L220.5,469.72 L221.0,470.54 L221.5,471.35 L222.0,472.16 L222.5,472.96 L223.0,473.76 L223.5,474.55 L224.0,475.34 L224.5,476.13 L225.0,476.91 L225.5,477.68 L226.0,478.45 L226.5,479.22 L227.0,479.99 L227.5,480.74 L228.0,481.50 L228.5,482.25 L229.0,483.00 L229.5,483.74 L230.0,484.48 L230.5,485.22 L231.0,485.95 L231.5,486.68 L232.0,487.41 L232.5,488.13 L233.0,488.85 L233.5,489.56 L234.0,490.28 L234.5,490.98 L235.0,491.69 L235.5,492.39 L236.0,493.09 L236.5,493.79 L237.0,494.48 L237.5,495.17 L238.0,495.85 L238.5,496.54 L239.0,497.22 L239.5,497.89 L240.0,498.57 L240.5,499.24 L241.0,499.91 L241.5,500.57 L242.0,501.24 L242.5,501.90 L243.0,502.55 L243.5,503.21 L244.0,503.86 L244.5,504.51 L245.0,505.16 L245.5,505.80 L246.0,506.44 L246.5,507.08 L247.0,507.72 L247.5,508.35 L248.0,508.98 L248.5,509.61 L249.0,510.24 L249.5,510.86 L250.0,511.48 L250.5,512.10 L251.0,512.72 L251.5,513.33 L252.0,513.94 L252.5,514.55 L253.0,515.16 L253.5,515.77 L254.0,516.37 L254.5,516.97 L255.0,517.57 L255.5,518.17 L256.0,518.76 L256.5,519.35 L257.0,519.94 L257.5,520.53 L258.0,521.12 L258.5,521.70 L259.0,522.28 L259.5,522.86 L260.0,523.44 L260.5,524.02 L261.0,524.59 L261.5,525.17 L262.0,525.74 L262.5,526.31 L263.0,526.87 L263.5,527.44 L264.0,528.00 L264.5,528.56 L265.0,529.12 L265.5,529.68 L266.0,530.24 L266.5,530.79 L267.0,531.34 L267.5,531.90 L268.0,532.45 L268.5,532.99 L269.0,533.54 L269.5,534.09 L270.0,534.63 L270.5,535.17 L271.0,535.71 L271.5,536.25 L272.0,536.79 L272.5,537.32 L273.0,537.86 L273.5,538.39 L274.0,538.92 L274.5,539.45 L275.0,539.98 L275.5,540.51 L276.0,541.04 L276.5,541.56 L277.0,542.09 L277.5,542.61 L278.0,543.13 L278.5,543.65 L279.0,544.17 L279.5,544.68 L280.0,545.20 L280.5,545.71 L281.0,546.23 L281.5,546.74 L282.0,547.25 L282.5,547.76 L283.0,548.27 L283.5,548.78 L284.0,549.29 L284.5,549.79 L285.0,550.30 L285.5,550.80 L286.0,551.30 L286.5,551.80 L287.0,552.31 L287.5,552.80 L288.0,553.30 L288.5,553.80 L289.0,554.30 L289.5,554.79 L290.0,555.29 L290.5,555.78 L291.0,556.27 L291.5,556.77 L292.0,557.26 L292.5,557.75 L293.0,558.24 L293.5,558.72 L294.0,559.21 L294.5,559.70 L295.0,560.18 L295.5,560.67 L296.0,561.15 L296.5,561.64 L297.0,562.12 L297.5,562.60 L298.0,563.08 L298.5,563.56 L299.0,564.04 L299.5,564.52 L300.0,565.00 L300.5,565.48 L301.0,565.95 L301.5,566.43 L302.0,566.90 L302.5,567.38 L303.0,567.85 L303.5,568.32 L304.0,568.79 L304.5,569.26 L305.0,569.73 L305.5,570.20 L306.0,570.67 L306.5,571.14 L307.0,571.60 L307.5,572.07 L308.0,572.53 L308.5,572.99 L309.0,573.46 L309.5,573.92 L310.0,574.38 L310.5,574.83 L311.0,575.29 L311.5,575.75 L312.0,576.20 L312.5,576.66 L313.0,577.11 L313.5,577.56 L314.0,578.02 L314.5,578.47 L315.0,578.91 L315.5,579.36 L316.0,579.81 L316.5,580.25 L317.0,580.70 L317.5,581.14 L318.0,581.58 L318.5,582.02 L319.0,582.46 L319.5,582.90 L320.0,583.34 L320.5,583.77 L321.0,584.21 L321.5,584.64 L322.0,585.07 L322.5,585.50 L323.0,585.93 L323.5,586.36 L324.0,586.79 L324.5,587.21 L325.0,587.64 L325.5,588.06 L326.0,588.48 L326.5,588.90 L327.0,589.32 L327.5,589.74 L328.0,590.15 L328.5,590.57 L329.0,590.98 L329.5,591.39 L330.0,591.80 L330.5,592.21 L331.0,592.62 L331.5,593.03 L332.0,593.43 L332.5,593.83 L333.0,594.23 L333.5,594.63 L334.0,595.03 L334.5,595.43 L335.0,595.83 L335.5,596.22 L336.0,596.61 L336.5,597.00 L337.0,597.39 L337.5,597.78 L338.0,598.17 L338.5,598.55 L339.0,598.94 L339.5,599.32 L340.0,599.70 L340.5,600.44 L341.0,601.18 L341.5,602.70 L342.0,604.41 L342.5,605.25 L343.0,604.80 L343.5,604.35 L344.0,603.97 L344.5,603.70 L345.0,603.43 L345.5,603.28 L346.0,603.58 L346.5,603.89 L347.0,604.19 L347.5,604.50 L348.0,604.81 L348.5,605.13 L349.0,605.44 L349.5,605.76 L350.0,606.09 L350.5,606.41 L351.0,606.74 L351.5,607.07 L352.0,607.30 L352.5,607.38 L353.0,607.47 L353.5,607.70 L354.0,608.51 L354.5,609.32 L355.0,610.14 L355.5,610.52 L356.0,610.62 L356.5,610.71 L357.0,610.81 L357.5,611.16 L358.0,611.52 L358.5,611.87 L359.0,612.22 L359.5,612.58 L360.0,612.94 L360.5,613.30 L361.0,613.66 L361.5,614.02 L362.0,614.38 L362.5,614.74 L363.0,615.10 L363.5,615.47 L364.0,615.83 L364.5,616.20 L365.0,616.56 L365.5,616.93 L366.0,617.30 L366.5,617.67 L367.0,618.03 L367.5,618.40 L368.0,618.77 L368.5,619.14 L369.0,619.51 L369.5,619.88 L370.0,620.25 L370.5,620.62 L371.0,620.99 L371.5,621.36 L372.0,621.73 L372.5,622.10 L373.0,622.47 L373.5,622.84 L374.0,623.21 L374.5,623.58 L375.0,623.95 L375.5,624.32 L376.0,624.68 L376.5,625.05 L377.0,625.42 L377.5,625.78 L378.0,626.15 L378.5,626.52 L379.0,626.88 L379.5,627.24 L380.0,627.61 L380.5,627.97 L381.0,628.33 L381.5,628.69 L382.0,629.05 L382.5,629.41 L383.0,629.76 L383.5,630.12 L384.0,630.47 L384.5,630.83 L385.0,631.18 L385.5,631.53 L386.0,631.88 L386.5,632.23 L387.0,632.58 L387.5,632.92 L388.0,633.27 L388.5,633.61 L389.0,633.95 L389.5,634.29 L390.0,634.63 L390.5,634.97 L391.0,635.30 L391.5,635.64 L392.0,635.97 L392.5,636.30 L393.0,636.63 L393.5,636.95 L394.0,637.28 L394.5,637.60 L395.0,637.92 L395.5,638.24 L396.0,638.56 L396.5,638.87 L397.0,639.19 L397.5,639.50 L398.0,639.81 L398.5,640.12 L399.0,640.42 L399.5,640.73 L400.0,641.03 L400.5,641.33 L401.0,641.63 L401.5,641.93 L402.0,642.23 L402.5,642.53 L403.0,642.82 L403.5,643.11 L404.0,643.40 L404.5,643.69 L405.0,643.98 L405.5,644.27 L406.0,644.55 L406.5,644.84 L407.0,645.12 L407.5,645.40 L408.0,645.68 L408.5,645.96 L409.0,646.23 L409.5,646.51 L410.0,646.78 L410.5,647.05 L411.0,647.32 L411.5,647.59 L412.0,647.86 L412.5,648.13 L413.0,648.40 L413.5,648.66 L414.0,648.92 L414.5,649.18 L415.0,649.45 L415.5,649.71 L416.0,649.96 L416.5,650.22 L417.0,650.48 L417.5,650.73 L418.0,650.98 L418.5,651.24 L419.0,651.49 L419.5,651.74 L420.0,651.99 L420.5,652.24 L421.0,652.48 L421.5,652.73 L422.0,652.97 L422.5,653.22 L423.0,653.46 L423.5,653.70 L424.0,653.94 L424.5,654.18 L425.0,654.42 L425.5,654.66 L426.0,654.89 L426.5,655.13 L427.0,655.36 L427.5,655.60 L428.0,655.83 L428.5,656.06 L429.0,656.29 L429.5,656.52 L430.0,656.75 L430.5,656.98 L431.0,657.21 L431.5,657.43 L432.0,657.66 L432.5,657.89 L433.0,658.11 L433.5,658.33 L434.0,658.56 L434.5,658.78 L435.0,659.00 L435.5,659.22 L436.0,659.44 L436.5,659.66 L437.0,659.87 L437.5,660.09 L438.0,660.31 L438.5,660.52 L439.0,660.74 L439.5,660.95 L440.0,661.16 L440.5,661.38 L441.0,661.59 L441.5,661.80 L442.0,662.01 L442.5,662.22 L443.0,662.43 L443.5,662.64 L444.0,662.85 L444.5,663.06 L445.0,663.26 L445.5,663.47 L446.0,663.68 L446.5,663.88 L447.0,664.09 L447.5,664.29 L448.0,664.49 L448.5,664.70 L449.0,664.90 L449.5,665.10 L450.0,665.30 L450.5,665.51 L451.0,665.71 L451.5,665.91 L452.0,666.11 L452.5,666.30 L453.0,666.50 L453.5,666.70 L454.0,666.90 L454.5,667.10 L455.0,667.29 L455.5,667.49 L456.0,667.68 L456.5,667.88 L457.0,668.07 L457.5,668.26 L458.0,668.46 L458.5,668.65 L459.0,668.84 L459.5,669.03 L460.0,669.22 L460.5,669.41 L461.0,669.60 L461.5,669.79 L462.0,669.98 L462.5,670.16 L463.0,670.35 L463.5,670.54 L464.0,670.72 L464.5,670.90 L465.0,671.09 L465.5,671.27 L466.0,671.45 L466.5,671.63 L467.0,671.82 L467.5,672.00 L468.0,672.18 L468.5,672.35 L469.0,672.53 L469.5,672.71 L470.0,672.89 L470.5,673.06 L471.0,673.24 L471.5,673.41 L472.0,673.58 L472.5,673.76 L473.0,673.93 L473.5,674.10 L474.0,674.27 L474.5,674.44 L475.0,674.61 L475.5,674.78 L476.0,674.95 L476.5,675.11 L477.0,675.28 L477.5,675.44 L478.0,675.61 L478.5,675.77 L479.0,675.93 L479.5,676.09 L480.0,676.26 L480.5,676.42 L481.0,676.57 L481.5,676.73 L482.0,676.89 L482.5,677.05 L483.0,677.20 L483.5,677.36 L484.0,677.51 L484.5,677.67 L485.0,677.82 L485.5,677.97 L486.0,678.12 L486.5,678.27 L487.0,678.42 L487.5,678.57 L488.0,678.71 L488.5,678.86 L489.0,679.00 L489.5,679.15 L490.0,679.29 L490.5,679.43 L491.0,679.58 L491.5,679.72 L492.0,679.86 L492.5,679.99 L493.0,680.13 L493.5,680.27 L494.0,680.41 L494.5,680.54 L495.0,680.67 L495.5,680.81 L496.0,680.94 L496.5,681.07 L497.0,681.20 L497.5,681.33 L498.0,681.46 L498.5,681.59 L499.0,681.71 L499.5,681.84 L500.0,681.96 L500.5,682.08 L501.0,682.21 L501.5,682.33 L502.0,682.45 L502.5,682.57 L503.0,682.69 L503.5,682.80 L504.0,682.92 L504.5,683.03 L505.0,683.15 L505.5,683.26 L506.0,683.37 L506.5,683.48 L507.0,683.59 L507.5,683.70 L508.0,683.81 L508.5,683.92 L509.0,684.02 L509.5,684.13 L510.0,684.23 L510.5,684.33 L511.0,684.44 L511.5,684.54 L512.0,684.63 L512.5,684.73 L513.0,684.83 L513.5,684.93 L514.0,685.02 L514.5,685.12 L515.0,685.21 L515.5,685.30 L516.0,685.39 L516.5,685.48 L517.0,685.57 L517.5,685.66 L518.0,685.74 L518.5,685.83 L519.0,685.92 L519.5,686.00 L520.0,686.08 L520.5,686.16 L521.0,686.25 L521.5,686.33 L522.0,686.41 L522.5,686.48 L523.0,686.56 L523.5,686.64 L524.0,686.71 L524.5,686.79 L525.0,686.86 L525.5,686.93 L526.0,687.01 L526.5,687.08 L527.0,687.15 L527.5,687.22 L528.0,687.29 L528.5,687.35 L529.0,687.42 L529.5,687.49 L530.0,687.55 L530.5,687.62 L531.0,687.68 L531.5,687.74 L532.0,687.81 L532.5,687.87 L533.0,687.93 L533.5,687.99 L534.0,688.05 L534.5,688.10 L535.0,688.16 L535.5,688.22 L536.0,688.27 L536.5,688.33 L537.0,688.38 L537.5,688.44 L538.0,688.49 L538.5,688.54 L539.0,688.60 L539.5,688.65 L540.0,688.70 L540.5,688.75 L541.0,688.79 L541.5,688.84 L542.0,688.89 L542.5,688.94 L543.0,688.98 L543.5,689.03 L544.0,689.07 L544.5,689.12 L545.0,689.16 L545.5,689.21 L546.0,689.25 L546.5,689.29 L547.0,689.33 L547.5,689.37 L548.0,689.41 L548.5,689.45 L549.0,689.49 L549.5,689.53 L550.0,689.57 L550.5,689.60 L551.0,689.64 L551.5,689.68 L552.0,689.71 L552.5,689.75 L553.0,689.78 L553.5,689.82 L554.0,689.85 L554.5,689.88 L555.0,689.91 L555.5,689.95 L556.0,689.98 L556.5,690.01 L557.0,690.04 L557.5,690.07 L558.0,690.10 L558.5,690.13 L559.0,690.16 L559.5,690.18 L560.0,690.21 L560.5,690.24 L561.0,690.26 L561.5,690.29 L562.0,690.32 L562.5,690.34 L563.0,690.37 L563.5,690.39 L564.0,690.42 L564.5,690.44 L565.0,690.46 L565.5,690.49 L566.0,690.51 L566.5,690.53 L567.0,690.55 L567.5,690.57 L568.0,690.59 L568.5,690.62 L569.0,690.64 L569.5,690.66 L570.0,690.67 L570.5,690.69 L571.0,690.71 L571.5,690.73 L572.0,690.75 L572.5,690.77 L573.0,690.79 L573.5,690.80 L574.0,690.82 L574.5,690.84 L575.0,690.85 L575.5,690.87 L576.0,690.88 L576.5,690.90 L577.0,690.91 L577.5,690.93 L578.0,690.94 L578.5,690.96 L579.0,690.97 L579.5,690.99 L580.0,691.00 L580.5,691.01 L581.0,691.03 L581.5,691.04 L582.0,691.05 L582.5,691.06 L583.0,691.08 L583.5,691.09 L584.0,691.10 L584.5,691.11 L585.0,691.12 L585.5,691.13 L586.0,691.14 L586.5,691.15 L587.0,691.16 L587.5,691.17 L588.0,691.18 L588.5,691.19 L589.0,691.20 L589.5,691.20 L590.0,691.21 L590.5,691.22 L591.0,691.23 L591.5,691.23 L592.0,691.24 L592.5,691.24 L593.0,691.25 L593.5,691.25 L594.0,691.26 L594.5,691.26 L595.0,691.27 L595.5,691.27 L596.0,691.27 L596.5,691.27 L597.0,691.28 L597.5,691.28 L598.0,691.28 L598.5,691.28 L599.0,691.28 L599.5,691.28 L600.0,691.28 L600.5,691.28 L601.0,691.28 L601.5,691.27 L602.0,691.27 L602.5,691.27 L603.0,691.26 L603.5,691.26 L604.0,691.26 L604.5,691.25 L605.0,691.24 L605.5,691.24 L606.0,691.23 L606.5,691.23 L607.0,691.22 L607.5,691.21 L608.0,691.20 L608.5,691.19 L609.0,691.18 L609.5,691.17 L610.0,691.16 L610.5,691.15 L611.0,691.14 L611.5,691.12 L612.0,691.11 L612.5,691.10 L613.0,691.08 L613.5,691.07 L614.0,691.05 L614.5,691.03 L615.0,691.02 L615.5,691.00 L616.0,690.98 L616.5,690.96 L617.0,690.94 L617.5,690.92 L618.0,690.90 L618.5,690.88 L619.0,690.86 L619.5,690.84 L620.0,690.82 L620.5,690.79 L621.0,690.77 L621.5,690.74 L622.0,690.72 L622.5,690.69 L623.0,690.66 L623.5,690.64 L624.0,690.61 L624.5,690.58 L625.0,690.55 L625.5,690.52 L626.0,690.49 L626.5,690.45 L627.0,690.42 L627.5,690.39 L628.0,690.35 L628.5,690.32 L629.0,690.28 L629.5,690.25 L630.0,690.21 L630.5,690.17 L631.0,690.13 L631.5,690.10 L632.0,690.06 L632.5,690.01 L633.0,689.97 L633.5,689.93 L634.0,689.89 L634.5,689.84 L635.0,689.80 L635.5,689.75 L636.0,689.71 L636.5,689.66 L637.0,689.61 L637.5,689.57 L638.0,689.52 L638.5,689.47 L639.0,689.42 L639.5,689.36 L640.0,689.31 L640.5,689.26 L641.0,689.20 L641.5,689.15 L642.0,689.09 L642.5,689.04 L643.0,688.98 L643.5,688.92 L644.0,688.86 L644.5,688.80 L645.0,688.74 L645.5,688.68 L646.0,688.62 L646.5,688.55 L647.0,688.49 L647.5,688.42 L648.0,688.36 L648.5,688.29 L649.0,688.22 L649.5,688.15 L650.0,688.09 L650.5,688.01 L651.0,687.94 L651.5,687.87 L652.0,687.80 L652.5,687.72 L653.0,687.65 L653.5,687.57 L654.0,687.50 L654.5,687.42 L655.0,687.34 L655.5,687.26" stroke="#00ff00"/>
<path d="M154.6,322.85 L155.1,323.81 L155.6,324.64 L156.1,325.37 L156.6,326.01 L157.1,326.60 L157.6,327.13 L158.1,327.62 L158.6,328.09 L159.1,328.53 L159.6,328.96 L160.1,329.38 L160.6,329.79 L161.1,330.21 L161.6,330.62 L162.1,331.05 L162.6,331.48 L163.1,331.93 L163.6,332.39 L164.1,332.86 L164.6,333.36 L165.1,333.87 L165.6,334.40 L166.1,334.96 L166.6,335.53 L167.1,336.14 L167.6,336.76 L168.1,337.41 L168.6,338.07 L169.1,338.76 L169.6,339.46 L170.1,340.18 L170.6,340.91 L171.1,341.66 L171.6,342.42 L172.1,343.20 L172.6,343.99 L173.1,344.78 L173.6,345.59 L174.1,346.41 L174.6,347.24 L175.1,348.08 L175.6,348.92 L176.1,349.77 L176.6,350.63 L177.1,351.49 L177.6,352.36 L178.1,353.24 L178.6,354.12 L179.1,355.01 L179.6,355.90 L180.1,356.79 L180.6,357.69 L181.1,358.59 L181.6,359.49 L182.1,360.40 L182.6,361.31 L183.1,362.22 L183.6,363.13 L184.1,364.05 L184.6,364.97 L185.1,365.88 L185.6,366.80 L186.1,367.72 L186.6,368.64 L187.1,369.56 L187.6,370.48 L188.1,371.40 L188.6,372.32 L189.1,373.24 L189.6,374.16 L190.1,375.08 L190.6,375.99 L191.1,376.91 L191.6,377.82 L192.1,378.73 L192.6,379.65 L193.1,380.55 L193.6,381.46 L194.1,382.37 L194.6,383.27 L195.1,384.17 L195.6,385.07 L196.1,385.96 L196.6,386.86 L197.1,387.75 L197.6,388.63 L198.1,389.52 L198.6,390.40 L199.1,391.28 L199.6,392.15 L200.0,392.85 L200.5,393.71 L201.0,394.58 L201.5,395.44 L202.0,396.30 L202.5,397.15 L203.0,398.00 L203.5,398.85 L204.0,399.69 L204.5,400.52 L205.0,401.36 L205.5,402.19 L206.0,403.01 L206.5,403.83 L207.0,404.65 L207.5,405.46 L208.0,406.26 L208.5,407.07 L209.0,407.86 L209.5,408.66 L210.0,409.45 L210.5,410.23 L211.0,411.01 L211.5,411.78 L212.0,412.55 L212.5,413.32 L213.0,414.07 L213.5,414.83 L214.0,415.58 L214.5,416.32 L215.0,417.06 L215.5,417.79 L216.0,418.52 L216.5,419.25 L217.0,419.97 L217.5,420.68 L218.0,421.39 L218.5,422.10 L219.0,422.80 L219.5,423.50 L220.0,424.19 L220.5,424.88 L221.0,425.56 L221.5,426.24 L222.0,426.92 L222.5,427.59 L223.0,428.26 L223.5,428.93 L224.0,429.59 L224.5,430.24 L225.0,430.90 L225.5,431.55 L226.0,432.19 L226.5,432.84 L227.0,433.48 L227.5,434.11 L228.0,434.75 L228.5,435.37 L229.0,436.00 L229.5,436.62 L230.0,437.24 L230.5,437.86 L231.0,438.47 L231.5,439.08 L232.0,439.69 L232.5,440.30 L233.0,440.90 L233.5,441.50 L234.0,442.09 L234.5,442.69 L235.0,443.28 L235.5,443.87 L236.0,444.45 L236.5,445.04 L237.0,445.62 L237.5,446.19 L238.0,446.77 L238.5,447.34 L239.0,447.91 L239.5,448.48 L240.0,449.05 L240.5,449.61 L241.0,450.17 L241.5,450.73 L242.0,451.29 L242.5,451.84 L243.0,452.39 L243.5,452.94 L244.0,453.49 L244.5,454.04 L245.0,454.58 L245.5,455.13 L246.0,455.67 L246.5,456.20 L247.0,456.74 L247.5,457.28 L248.0,457.81 L248.5,458.34 L249.0,458.87 L249.5,459.40 L250.0,459.92 L250.5,460.44 L251.0,460.97 L251.5,461.49 L252.0,462.01 L252.5,462.52 L253.0,463.04 L253.5,463.55 L254.0,464.06 L254.5,464.58 L255.0,465.08 L255.5,465.59 L256.0,466.10 L256.5,466.60 L257.0,467.11 L257.5,467.61 L258.0,468.11 L258.5,468.61 L259.0,469.11 L259.5,469.60 L260.0,470.10 L260.5,470.59 L261.0,471.08 L261.5,471.57 L262.0,472.06 L262.5,472.55 L263.0,473.04 L263.5,473.52 L264.0,474.01 L264.5,474.49 L265.0,474.97 L265.5,475.45 L266.0,475.93 L266.5,476.41 L267.0,476.89 L267.5,477.36 L268.0,477.84 L268.5,478.31 L269.0,478.79 L269.5,479.26 L270.0,479.73 L270.5,480.20 L271.0,480.67 L271.5,481.13 L272.0,481.60 L272.5,482.07 L273.0,482.53 L273.5,482.99 L274.0,483.46 L274.5,483.92 L275.0,484.38 L275.5,484.84 L276.0,485.30 L276.5,485.75 L277.0,486.21 L277.5,486.67 L278.0,487.12 L278.5,487.58 L279.0,488.03 L279.5,488.48 L280.0,488.94 L280.5,489.39 L281.0,489.84 L281.5,490.29 L282.0,490.73 L282.5,491.18 L283.0,491.63 L283.5,492.07 L284.0,492.52 L284.5,492.96 L285.0,493.41 L285.5,493.85 L286.0,494.29 L286.5,494.74 L287.0,495.18 L287.5,495.62 L288.0,496.06 L288.5,496.50 L289.0,496.93 L289.5,497.37 L290.0,497.81 L290.5,498.25 L291.0,498.68 L291.5,499.12 L292.0,499.55 L292.5,499.99 L293.0,500.42 L293.5,500.85 L294.0,501.28 L294.5,501.72 L295.0,502.15 L295.5,502.58 L296.0,503.01 L296.5,503.43 L297.0,503.86 L297.5,504.29 L298.0,504.72 L298.5,505.14 L299.0,505.57 L299.5,506.00 L300.0,506.42 L300.5,506.84 L301.0,507.27 L301.5,507.69 L302.0,508.11 L302.5,508.53 L303.0,508.95 L303.5,509.37 L304.0,509.79 L304.5,510.21 L305.0,510.63 L305.5,511.04 L306.0,511.46 L306.5,511.88 L307.0,512.29 L307.5,512.71 L308.0,513.12 L308.5,513.53 L309.0,513.94 L309.5,514.36 L310.0,514.77 L310.5,515.18 L311.0,515.59 L311.5,515.99 L312.0,516.40 L312.5,516.81 L313.0,517.22 L313.5,517.62 L314.0,518.03 L314.5,518.43 L315.0,518.83 L315.5,519.24 L316.0,519.64 L316.5,520.04 L317.0,520.44 L317.5,520.84 L318.0,521.26 L318.5,521.74 L319.0,522.22 L319.5,522.91 L320.0,523.61 L320.5,524.03 L321.0,524.26 L321.5,524.48 L322.0,524.74 L322.5,525.00 L323.0,525.27 L323.5,525.58 L324.0,525.97 L324.5,526.36 L325.0,526.75 L325.5,527.14 L326.0,527.52 L326.5,527.91 L327.0,528.30 L327.5,528.68 L328.0,529.07 L328.5,529.45 L329.0,529.83 L329.5,530.21 L330.0,530.59 L330.5,530.97 L331.0,531.35 L331.5,531.73 L332.0,532.11 L332.5,532.49 L333.0,532.86 L333.5,533.24 L334.0,533.61 L334.5,533.99 L335.0,534.36 L335.5,534.73 L336.0,535.10 L336.5,535.47 L337.0,535.84 L337.5,536.21 L338.0,536.58 L338.5,536.95 L339.0,537.38 L339.5,537.85 L340.0,538.44 L340.5,539.21 L341.0,539.97 L341.5,540.11 L342.0,540.25 L342.5,540.35 L343.0,540.43 L343.5,540.51 L344.0,540.59 L344.5,540.82 L345.0,541.07 L345.5,541.33 L346.0,541.60 L346.5,541.86 L347.0,542.13 L347.5,542.40 L348.0,542.67 L348.5,542.94 L349.0,543.22 L349.5,543.49 L350.0,543.77 L350.5,544.05 L351.0,544.34 L351.5,544.62 L352.0,544.91 L352.5,545.20 L353.0,545.49 L353.5,545.78 L354.0,546.07 L354.5,546.37 L355.0,546.67 L355.5,546.97 L356.0,547.27 L356.5,547.57 L357.0,547.87 L357.5,548.17 L358.0,548.48 L358.5,548.79 L359.0,549.10 L359.5,549.41 L360.0,549.72 L360.5,550.03 L361.0,550.34 L361.5,550.66 L362.0,550.97 L362.5,551.29 L363.0,551.61 L363.5,551.93 L364.0,552.25 L364.5,552.57 L365.0,552.89 L365.5,553.21 L366.0,553.54 L366.5,553.86 L367.0,554.18 L367.5,554.51 L368.0,554.84 L368.5,555.16 L369.0,555.49 L369.5,555.82 L370.0,556.15 L370.5,556.48 L371.0,556.81 L371.5,557.14 L372.0,557.47 L372.5,557.80 L373.0,558.13 L373.5,558.47 L374.0,558.80 L374.5,559.13 L375.0,559.47 L375.5,559.80 L376.0,560.13 L376.5,560.47 L377.0,560.80 L377.5,561.14 L378.0,561.47 L378.5,561.81 L379.0,562.14 L379.5,562.48 L380.0,562.81 L380.5,563.15 L381.0,563.48 L381.5,563.82 L382.0,564.15 L382.5,564.49 L383.0,564.82 L383.5,565.15 L384.0,565.49 L384.5,565.82 L385.0,566.16 L385.5,566.49 L386.0,566.82 L386.5,567.16 L387.0,567.49 L387.5,567.82 L388.0,568.15 L388.5,568.49 L389.0,568.82 L389.5,569.15 L390.0,569.48 L390.5,569.81 L391.0,570.14 L391.5,570.47 L392.0,570.79 L392.5,571.12 L393.0,571.45 L393.5,571.78 L394.0,572.10 L394.5,572.43 L395.0,572.75 L395.5,573.08 L396.0,573.40 L396.5,573.72 L397.0,574.04 L397.5,574.36 L398.0,574.68 L398.5,575.00 L399.0,575.32 L399.5,575.64 L400.0,575.95 L400.5,576.27 L401.0,576.58 L401.5,576.90 L402.0,577.21 L402.5,577.52 L403.0,577.83 L403.5,578.14 L404.0,578.45 L404.5,578.76 L405.0,579.07 L405.5,579.37 L406.0,579.67 L406.5,579.98 L407.0,580.28 L407.5,580.58 L408.0,580.88 L408.5,581.18 L409.0,581.48 L409.5,581.77 L410.0,582.07 L410.5,582.36 L411.0,582.65 L411.5,582.94 L412.0,583.23 L412.5,583.52 L413.0,583.81 L413.5,584.10 L414.0,584.39 L414.5,584.67 L415.0,584.95 L415.5,585.24 L416.0,585.52 L416.5,585.80 L417.0,586.08 L417.5,586.36 L418.0,586.64 L418.5,586.91 L419.0,587.19 L419.5,587.46 L420.0,587.74 L420.5,588.01 L421.0,588.28 L421.5,588.55 L422.0,588.82 L422.5,589.09 L423.0,589.36 L423.5,589.62 L424.0,589.89 L424.5,590.15 L425.0,590.42 L425.5,590.68 L426.0,590.94 L426.5,591.20 L427.0,591.46 L427.5,591.72 L428.0,591.98 L428.5,592.24 L429.0,592.49 L429.5,592.75 L430.0,593.00 L430.5,593.25 L431.0,593.51 L431.5,593.76 L432.0,594.01 L432.5,594.26 L433.0,594.51 L433.5,594.76 L434.0,595.00 L434.5,595.25 L435.0,595.49 L435.5,595.74 L436.0,595.98 L436.5,596.22 L437.0,596.47 L437.5,596.71 L438.0,596.95 L438.5,597.19 L439.0,597.43 L439.5,597.66 L440.0,597.90 L440.5,598.14 L441.0,598.37 L441.5,598.61 L442.0,598.84 L442.5,599.07 L443.0,599.30 L443.5,599.54 L444.0,599.77 L444.5,600.00 L445.0,600.22 L445.5,600.45 L446.0,600.68 L446.5,600.91 L447.0,601.13 L447.5,601.36 L448.0,601.58 L448.5,601.81 L449.0,602.03 L449.5,602.25 L450.0,602.47 L450.5,602.69 L451.0,602.91 L451.5,603.13 L452.0,603.35 L452.5,603.57 L453.0,603.78 L453.5,604.00 L454.0,604.22 L454.5,604.43 L455.0,604.64 L455.5,604.86 L456.0,605.07 L456.5,605.28 L457.0,605.49 L457.5,605.71 L458.0,605.92 L458.5,606.12 L459.0,606.33 L459.5,606.54 L460.0,606.75 L460.5,606.96 L461.0,607.16 L461.5,607.37 L462.0,607.57 L462.5,607.78 L463.0,607.98 L463.5,608.18 L464.0,608.38 L464.5,608.59 L465.0,608.79 L465.5,608.99 L466.0,609.19 L466.5,609.39 L467.0,609.58 L467.5,609.78 L468.0,609.98 L468.5,610.18 L469.0,610.37 L469.5,610.57 L470.0,610.76 L470.5,610.96 L471.0,611.15 L471.5,611.34 L472.0,611.53 L472.5,611.73 L473.0,611.92 L473.5,612.11 L474.0,612.30 L474.5,612.49 L475.0,612.68 L475.5,612.87 L476.0,613.05 L476.5,613.24 L477.0,613.43 L477.5,613.61 L478.0,613.80 L478.5,613.99 L479.0,614.17 L479.5,614.35 L480.0,614.54 L480.5,614.72 L481.0,614.90 L481.5,615.09 L482.0,615.27 L482.5,615.45 L483.0,615.63 L483.5,615.81 L484.0,615.99 L484.5,616.17 L485.0,616.35 L485.5,616.52 L486.0,616.70 L486.5,616.88 L487.0,617.05 L487.5,617.23 L488.0,617.40 L488.5,617.58 L489.0,617.75 L489.5,617.93 L490.0,618.10 L490.5,618.27 L491.0,618.44 L491.5,618.62 L492.0,618.79 L492.5,618.96 L493.0,619.13 L493.5,619.30 L494.0,619.47 L494.5,619.64 L495.0,619.80 L495.5,619.97 L496.0,620.14 L496.5,620.30 L497.0,620.47 L497.5,620.63 L498.0,620.80 L498.5,620.96 L499.0,621.13 L499.5,621.29 L500.0,621.45 L500.5,621.62 L501.0,621.78 L501.5,621.94 L502.0,622.10 L502.5,622.26 L503.0,622.42 L503.5,622.58 L504.0,622.74 L504.5,622.90 L505.0,623.05 L505.5,623.21 L506.0,623.37 L506.5,623.52 L507.0,623.68 L507.5,623.83 L508.0,623.99 L508.5,624.14 L509.0,624.30 L509.5,624.45 L510.0,624.60 L510.5,624.75 L511.0,624.90 L511.5,625.06 L512.0,625.21 L512.5,625.36 L513.0,625.51 L513.5,625.65 L514.0,625.80 L514.5,625.95 L515.0,626.10 L515.5,626.24 L516.0,626.39 L516.5,626.54 L517.0,626.68 L517.5,626.83 L518.0,626.97 L518.5,627.12 L519.0,627.26 L519.5,627.40 L520.0,627.54 L520.5,627.69 L521.0,627.83 L521.5,627.97 L522.0,628.11 L522.5,628.25 L523.0,628.39 L523.5,628.53 L524.0,628.66 L524.5,628.80 L525.0,628.94 L525.5,629.08 L526.0,629.21 L526.5,629.35 L527.0,629.48 L527.5,629.62 L528.0,629.75 L528.5,629.89 L529.0,630.02 L529.5,630.15 L530.0,630.28 L530.5,630.42 L531.0,630.55 L531.5,630.68 L532.0,630.81 L532.5,630.94 L533.0,631.07 L533.5,631.20 L534.0,631.32 L534.5,631.45 L535.0,631.58 L535.5,631.71 L536.0,631.83 L536.5,631.96 L537.0,632.08 L537.5,632.21 L538.0,632.33 L538.5,632.46 L539.0,632.58 L539.5,632.70 L540.0,632.83 L540.5,632.95 L541.0,633.07 L541.5,633.19 L542.0,633.31 L542.5,633.43 L543.0,633.55 L543.5,633.67 L544.0,633.79 L544.5,633.90 L545.0,634.02 L545.5,634.14 L546.0,634.25 L546.5,634.37 L547.0,634.49 L547.5,634.60 L548.0,634.71 L548.5,634.83 L549.0,634.94 L549.5,635.05 L550.0,635.17 L550.5,635.28 L551.0,635.39 L551.5,635.50 L552.0,635.61 L552.5,635.72 L553.0,635.83 L553.5,635.94 L554.0,636.05 L554.5,636.16 L555.0,636.26 L555.5,636.37 L556.0,636.48 L556.5,636.58 L557.0,636.69 L557.5,636.80 L558.0,636.90 L558.5,637.00 L559.0,637.11 L559.5,637.21 L560.0,637.31 L560.5,637.42 L561.0,637.52 L561.5,637.62 L562.0,637.72 L562.5,637.82 L563.0,637.92 L563.5,638.02 L564.0,638.12 L564.5,638.22 L565.0,638.31 L565.5,638.41 L566.0,638.51 L566.5,638.60 L567.0,638.70 L567.5,638.80 L568.0,638.89 L568.5,638.99 L569.0,639.08 L569.5,639.17 L570.0,639.27 L570.5,639.36 L571.0,639.45 L571.5,639.54 L572.0,639.63 L572.5,639.72 L573.0,639.81 L573.5,639.90 L574.0,639.99 L574.5,640.08 L575.0,640.17 L575.5,640.26 L576.0,640.35 L576.5,640.43 L577.0,640.52 L577.5,640.61 L578.0,640.69 L578.5,640.78 L579.0,640.86 L579.5,640.95 L580.0,641.03 L580.5,641.11 L581.0,641.20 L581.5,641.28 L582.0,641.36 L582.5,641.44 L583.0,641.53 L583.5,641.61 L584.0,641.69 L584.5,641.77 L585.0,641.85 L585.5,641.93 L586.0,642.00 L586.5,642.08 L587.0,642.16 L587.5,642.24 L588.0,642.31 L588.5,642.39 L589.0,642.47 L589.5,642.54 L590.0,642.62 L590.5,642.69 L591.0,642.77 L591.5,642.84 L592.0,642.91 L592.5,642.99 L593.0,643.06 L593.5,643.13 L594.0,643.20 L594.5,643.28 L595.0,643.35 L595.5,643.42 L596.0,643.49 L596.5,643.56 L597.0,643.63 L597.5,643.70 L598.0,643.76 L598.5,643.83 L599.0,643.90 L599.5,643.97 L600.0,644.03 L600.5,644.10 L601.0,644.17 L601.5,644.23 L602.0,644.30 L602.5,644.36 L603.0,644.43 L603.5,644.49 L604.0,644.56 L604.5,644.62 L605.0,644.68 L605.5,644.74 L606.0,644.81 L606.5,644.87 L607.0,644.93 L607.5,644.99 L608.0,645.05 L608.5,645.11 L609.0,645.17 L609.5,645.23 L610.0,645.29 L610.5,645.35 L611.0,645.41 L611.5,645.46 L612.0,645.52 L612.5,645.58 L613.0,645.63 L613.5,645.69 L614.0,645.75 L614.5,645.80 L615.0,645.86 L615.5,645.91 L616.0,645.97 L616.5,646.02 L617.0,646.07 L617.5,646.13 L618.0,646.18 L618.5,646.23 L619.0,646.28 L619.5,646.34 L620.0,646.39 L620.5,646.44 L621.0,646.49 L621.5,646.54 L622.0,646.59 L622.5,646.64 L623.0,646.69 L623.5,646.74 L624.0,646.79 L624.5,646.83 L625.0,646.88 L625.5,646.93 L626.0,646.98 L626.5,647.02 L627.0,647.07 L627.5,647.11 L628.0,647.16 L628.5,647.20 L629.0,647.25 L629.5,647.29 L630.0,647.34 L630.5,647.38 L631.0,647.43 L631.5,647.47 L632.0,647.51 L632.5,647.55 L633.0,647.59 L633.5,647.64 L634.0,647.68 L634.5,647.72 L635.0,647.76 L635.5,647.80 L636.0,647.84 L636.5,647.88 L637.0,647.92 L637.5,647.96 L638.0,648.00 L638.5,648.03 L639.0,648.07 L639.5,648.11 L640.0,648.15 L640.5,648.18 L641.0,648.22 L641.5,648.26 L642.0,648.29 L642.5,648.33 L643.0,648.36 L643.5,648.40 L644.0,648.43 L644.5,648.46 L645.0,648.50 L645.5,648.53 L646.0,648.56 L646.5,648.60 L647.0,648.63 L647.5,648.66 L648.0,648.69 L648.5,648.73 L649.0,648.76 L649.5,648.79 L650.0,648.82 L650.5,648.85 L651.0,648.88 L651.5,648.91 L652.0,648.94 L652.5,648.97 L653.0,648.99 L653.5,649.02 L654.0,649.05 L654.5,649.08 L655.0,649.10 L655.5,649.13" stroke="#0000ff" stroke-dasharray="7.1 4.8"/>
<path d="M154.6,322.50 L155.1,321.90 L155.6,321.90 L156.1,321.90 L156.6,321.90 L157.1,321.90 L157.6,321.90 L158.1,321.90 L158.6,321.90 L159.1,321.90 L159.6,321.95 L160.1,322.62 L160.6,323.33 L161.1,324.07 L161.6,324.84 L162.1,325.61 L162.6,326.39 L163.1,327.16 L163.6,327.92 L164.1,328.67 L164.6,329.39 L165.1,330.09 L165.6,330.77 L166.1,331.42 L166.6,332.06 L167.1,332.68 L167.6,333.29 L168.1,333.89 L168.6,334.48 L169.1,335.07 L169.6,335.64 L170.1,336.22 L170.6,336.79 L171.1,337.35 L171.6,337.92 L172.1,338.49 L172.6,339.06 L173.1,339.63 L173.6,340.21 L174.1,340.79 L174.6,341.38 L175.1,341.97 L175.6,342.57 L176.1,343.18 L176.6,343.79 L177.1,344.41 L177.6,345.04 L178.1,345.69 L178.6,346.34 L179.1,347.00 L179.6,347.67 L180.1,348.35 L180.6,349.05 L181.1,349.76 L181.6,350.47 L182.1,351.20 L182.6,351.93 L183.1,352.67 L183.6,353.42 L184.1,354.18 L184.6,354.94 L185.1,355.71 L185.6,356.48 L186.1,357.25 L186.6,358.03 L187.1,358.81 L187.6,359.59 L188.1,360.37 L188.6,361.16 L189.1,361.94 L189.6,362.73 L190.1,363.52 L190.6,364.30 L191.1,365.09 L191.6,365.87 L192.1,366.65 L192.6,367.43 L193.1,368.21 L193.6,368.98 L194.1,369.76 L194.6,370.53 L195.1,371.29 L195.6,372.05 L196.1,372.81 L196.6,373.56 L197.1,374.31 L197.6,375.05 L198.1,375.79 L198.6,376.52 L199.1,377.25 L199.6,377.97 L200.0,378.54 L200.5,379.25 L201.0,379.95 L201.5,380.65 L202.0,381.34 L202.5,382.02 L203.0,382.70 L203.5,383.37 L204.0,384.03 L204.5,384.69 L205.0,385.35 L205.5,385.99 L206.0,386.64 L206.5,387.27 L207.0,387.91 L207.5,388.54 L208.0,389.16 L208.5,389.78 L209.0,390.39 L209.5,391.01 L210.0,391.61 L210.5,392.22 L211.0,392.82 L211.5,393.41 L212.0,394.00 L212.5,394.59 L213.0,395.18 L213.5,395.76 L214.0,396.34 L214.5,396.92 L215.0,397.49 L215.5,398.07 L216.0,398.64 L216.5,399.20 L217.0,399.77 L217.5,400.33 L218.0,400.89 L218.5,401.45 L219.0,402.01 L219.5,402.56 L220.0,403.12 L220.5,403.67 L221.0,404.22 L221.5,404.77 L222.0,405.31 L222.5,405.86 L223.0,406.40 L223.5,406.95 L224.0,407.49 L224.5,408.03 L225.0,408.57 L225.5,409.12 L226.0,409.65 L226.5,410.19 L227.0,410.73 L227.5,411.27 L228.0,411.81 L228.5,412.34 L229.0,412.88 L229.5,413.42 L230.0,413.95 L230.5,414.49 L231.0,415.02 L231.5,415.56 L232.0,416.09 L232.5,416.62 L233.0,417.16 L233.5,417.69 L234.0,418.22 L234.5,418.75 L235.0,419.28 L235.5,419.80 L236.0,420.33 L236.5,420.86 L237.0,421.38 L237.5,421.91 L238.0,422.43 L238.5,422.95 L239.0,423.47 L239.5,423.99 L240.0,424.51 L240.5,425.03 L241.0,425.55 L241.5,426.06 L242.0,426.58 L242.5,427.09 L243.0,427.60 L243.5,428.11 L244.0,428.62 L244.5,429.13 L245.0,429.64 L245.5,430.14 L246.0,430.64 L246.5,431.15 L247.0,431.65 L247.5,432.15 L248.0,432.64 L248.5,433.14 L249.0,433.63 L249.5,434.13 L250.0,434.62 L250.5,435.11 L251.0,435.59 L251.5,436.08 L252.0,436.56 L252.5,437.05 L253.0,437.53 L253.5,438.01 L254.0,438.49 L254.5,438.96 L255.0,439.44 L255.5,439.91 L256.0,440.38 L256.5,440.85 L257.0,441.31 L257.5,441.78 L258.0,442.24 L258.5,442.70 L259.0,443.16 L259.5,443.62 L260.0,444.07 L260.5,444.53 L261.0,444.98 L261.5,445.43 L262.0,445.88 L262.5,446.32 L263.0,446.77 L263.5,447.21 L264.0,447.65 L264.5,448.09 L265.0,448.52 L265.5,448.96 L266.0,449.39 L266.5,449.82 L267.0,450.25 L267.5,450.68 L268.0,451.11 L268.5,451.53 L269.0,451.95 L269.5,452.38 L270.0,452.80 L270.5,453.21 L271.0,453.63 L271.5,454.05 L272.0,454.46 L272.5,454.87 L273.0,455.28 L273.5,455.69 L274.0,456.10 L274.5,456.51 L275.0,456.91 L275.5,457.32 L276.0,457.72 L276.5,458.12 L277.0,458.52 L277.5,458.92 L278.0,459.32 L278.5,459.72 L279.0,460.11 L279.5,460.50 L280.0,460.90 L280.5,461.29 L281.0,461.68 L281.5,462.07 L282.0,462.46 L282.5,462.84 L283.0,463.23 L283.5,463.62 L284.0,464.00 L284.5,464.38 L285.0,464.76 L285.5,465.14 L286.0,465.52 L286.5,465.90 L287.0,466.28 L287.5,466.66 L288.0,467.03 L288.5,467.41 L289.0,467.78 L289.5,468.16 L290.0,468.53 L290.5,468.90 L291.0,469.27 L291.5,469.64 L292.0,470.01 L292.5,470.38 L293.0,470.74 L293.5,471.11 L294.0,471.48 L294.5,471.84 L295.0,472.21 L295.5,472.57 L296.0,472.93 L296.5,473.29 L297.0,473.65 L297.5,474.01 L298.0,474.37 L298.5,474.73 L299.0,475.09 L299.5,475.45 L300.0,475.81 L300.5,476.16 L301.0,476.52 L301.5,476.87 L302.0,477.23 L302.5,477.58 L303.0,477.94 L303.5,478.29 L304.0,478.64 L304.5,478.99 L305.0,479.35 L305.5,479.70 L306.0,480.05 L306.5,480.40 L307.0,480.75 L307.5,481.09 L308.0,481.44 L308.5,481.79 L309.0,482.14 L309.5,482.48 L310.0,482.83 L310.5,483.18 L311.0,483.52 L311.5,483.87 L312.0,484.21 L312.5,484.56 L313.0,484.90 L313.5,485.24 L314.0,485.59 L314.5,485.93 L315.0,486.27 L315.5,486.62 L316.0,486.96 L316.5,487.30 L317.0,487.64 L317.5,487.98 L318.0,488.37 L318.5,488.81 L319.0,489.33 L319.5,490.01 L320.0,490.68 L320.5,490.83 L321.0,490.99 L321.5,491.15 L322.0,491.34 L322.5,491.54 L323.0,491.74 L323.5,492.05 L324.0,492.38 L324.5,492.72 L325.0,493.06 L325.5,493.39 L326.0,493.73 L326.5,494.07 L327.0,494.40 L327.5,494.74 L328.0,495.08 L328.5,495.41 L329.0,495.75 L329.5,496.08 L330.0,496.42 L330.5,496.75 L331.0,497.09 L331.5,497.42 L332.0,497.76 L332.5,498.09 L333.0,498.42 L333.5,498.76 L334.0,499.09 L334.5,499.43 L335.0,499.76 L335.5,500.10 L336.0,500.43 L336.5,500.76 L337.0,501.10 L337.5,501.43 L338.0,501.76 L338.5,502.10 L339.0,502.43 L339.5,502.77 L340.0,503.10 L340.5,503.43 L341.0,503.84 L341.5,504.29 L342.0,504.87 L342.5,505.59 L343.0,506.25 L343.5,506.23 L344.0,506.22 L344.5,506.21 L345.0,506.26 L345.5,506.31 L346.0,506.37 L346.5,506.57 L347.0,506.81 L347.5,507.05 L348.0,507.29 L348.5,507.54 L349.0,507.78 L349.5,508.03 L350.0,508.28 L350.5,508.53 L351.0,508.78 L351.5,509.04 L352.0,509.29 L352.5,509.55 L353.0,509.81 L353.5,510.07 L354.0,510.33 L354.5,510.59 L355.0,510.86 L355.5,511.12 L356.0,511.39 L356.5,511.66 L357.0,511.92 L357.5,512.19 L358.0,512.47 L358.5,512.74 L359.0,513.01 L359.5,513.29 L360.0,513.56 L360.5,513.84 L361.0,514.12 L361.5,514.39 L362.0,514.67 L362.5,514.95 L363.0,515.24 L363.5,515.52 L364.0,515.80 L364.5,516.08 L365.0,516.37 L365.5,516.65 L366.0,516.94 L366.5,517.23 L367.0,517.51 L367.5,517.80 L368.0,518.09 L368.5,518.38 L369.0,518.67 L369.5,518.96 L370.0,519.25 L370.5,519.54 L371.0,519.84 L371.5,520.13 L372.0,520.42 L372.5,520.72 L373.0,521.01 L373.5,521.30 L374.0,521.60 L374.5,521.89 L375.0,522.19 L375.5,522.48 L376.0,522.78 L376.5,523.08 L377.0,523.37 L377.5,523.67 L378.0,523.97 L378.5,524.26 L379.0,524.56 L379.5,524.86 L380.0,525.15 L380.5,525.45 L381.0,525.75 L381.5,526.05 L382.0,526.34 L382.5,526.64 L383.0,526.94 L383.5,527.24 L384.0,527.53 L384.5,527.83 L385.0,528.13 L385.5,528.43 L386.0,528.72 L386.5,529.02 L387.0,529.32 L387.5,529.61 L388.0,529.91 L388.5,530.21 L389.0,530.50 L389.5,530.80 L390.0,531.09 L390.5,531.39 L391.0,531.68 L391.5,531.98 L392.0,532.27 L392.5,532.57 L393.0,532.86 L393.5,533.15 L394.0,533.45 L394.5,533.74 L395.0,534.03 L395.5,534.32 L396.0,534.61 L396.5,534.90 L397.0,535.19 L397.5,535.48 L398.0,535.77 L398.5,536.06 L399.0,536.34 L399.5,536.63 L400.0,536.92 L400.5,537.20 L401.0,537.49 L401.5,537.77 L402.0,538.06 L402.5,538.34 L403.0,538.62 L403.5,538.90 L404.0,539.18 L404.5,539.47 L405.0,539.74 L405.5,540.02 L406.0,540.30 L406.5,540.58 L407.0,540.85 L407.5,541.13 L408.0,541.40 L408.5,541.68 L409.0,541.95 L409.5,542.22 L410.0,542.49 L410.5,542.76 L411.0,543.03 L411.5,543.30 L412.0,543.57 L412.5,543.84 L413.0,544.11 L413.5,544.37 L414.0,544.64 L414.5,544.90 L415.0,545.17 L415.5,545.43 L416.0,545.69 L416.5,545.95 L417.0,546.21 L417.5,546.47 L418.0,546.73 L418.5,546.99 L419.0,547.25 L419.5,547.51 L420.0,547.76 L420.5,548.02 L421.0,548.28 L421.5,548.53 L422.0,548.78 L422.5,549.04 L423.0,549.29 L423.5,549.54 L424.0,549.79 L424.5,550.04 L425.0,550.29 L425.5,550.54 L426.0,550.79 L426.5,551.04 L427.0,551.29 L427.5,551.53 L428.0,551.78 L428.5,552.02 L429.0,552.27 L429.5,552.51 L430.0,552.76 L430.5,553.00 L431.0,553.24 L431.5,553.48 L432.0,553.73 L432.5,553.97 L433.0,554.21 L433.5,554.45 L434.0,554.69 L434.5,554.92 L435.0,555.16 L435.5,555.40 L436.0,555.64 L436.5,555.87 L437.0,556.11 L437.5,556.34 L438.0,556.58 L438.5,556.81 L439.0,557.04 L439.5,557.28 L440.0,557.51 L440.5,557.74 L441.0,557.97 L441.5,558.20 L442.0,558.43 L442.5,558.66 L443.0,558.89 L443.5,559.12 L444.0,559.35 L444.5,559.58 L445.0,559.80 L445.5,560.03 L446.0,560.26 L446.5,560.48 L447.0,560.71 L447.5,560.93 L448.0,561.16 L448.5,561.38 L449.0,561.60 L449.5,561.83 L450.0,562.05 L450.5,562.27 L451.0,562.49 L451.5,562.71 L452.0,562.93 L452.5,563.16 L453.0,563.37 L453.5,563.59 L454.0,563.81 L454.5,564.03 L455.0,564.25 L455.5,564.47 L456.0,564.68 L456.5,564.90 L457.0,565.12 L457.5,565.33 L458.0,565.55 L458.5,565.76 L459.0,565.98 L459.5,566.19 L460.0,566.41 L460.5,566.62 L461.0,566.83 L461.5,567.05 L462.0,567.26 L462.5,567.47 L463.0,567.68 L463.5,567.89 L464.0,568.10 L464.5,568.31 L465.0,568.53 L465.5,568.73 L466.0,568.94 L466.5,569.15 L467.0,569.36 L467.5,569.57 L468.0,569.78 L468.5,569.99 L469.0,570.19 L469.5,570.40 L470.0,570.61 L470.5,570.81 L471.0,571.02 L471.5,571.22 L472.0,571.43 L472.5,571.63 L473.0,571.84 L473.5,572.04 L474.0,572.25 L474.5,572.45 L475.0,572.65 L475.5,572.86 L476.0,573.06 L476.5,573.26 L477.0,573.47 L477.5,573.67 L478.0,573.87 L478.5,574.07 L479.0,574.27 L479.5,574.47 L480.0,574.67 L480.5,574.87 L481.0,575.07 L481.5,575.27 L482.0,575.47 L482.5,575.67 L483.0,575.87 L483.5,576.07 L484.0,576.26 L484.5,576.46 L485.0,576.66 L485.5,576.86 L486.0,577.05 L486.5,577.25 L487.0,577.45 L487.5,577.64 L488.0,577.84 L488.5,578.03 L489.0,578.23 L489.5,578.42 L490.0,578.62 L490.5,578.81 L491.0,579.01 L491.5,579.20 L492.0,579.39 L492.5,579.59 L493.0,579.78 L493.5,579.97 L494.0,580.16 L494.5,580.36 L495.0,580.55 L495.5,580.74 L496.0,580.93 L496.5,581.12 L497.0,581.31 L497.5,581.50 L498.0,581.69 L498.5,581.88 L499.0,582.07 L499.5,582.26 L500.0,582.44 L500.5,582.63 L501.0,582.82 L501.5,583.01 L502.0,583.19 L502.5,583.38 L503.0,583.57 L503.5,583.75 L504.0,583.94 L504.5,584.13 L505.0,584.31 L505.5,584.50 L506.0,584.68 L506.5,584.86 L507.0,585.05 L507.5,585.23 L508.0,585.41 L508.5,585.60 L509.0,585.78 L509.5,585.96 L510.0,586.14 L510.5,586.32 L511.0,586.51 L511.5,586.69 L512.0,586.87 L512.5,587.05 L513.0,587.23 L513.5,587.41 L514.0,587.58 L514.5,587.76 L515.0,587.94 L515.5,588.12 L516.0,588.30 L516.5,588.47 L517.0,588.65 L517.5,588.83 L518.0,589.00 L518.5,589.18 L519.0,589.36 L519.5,589.53 L520.0,589.71 L520.5,589.88 L521.0,590.06 L521.5,590.23 L522.0,590.40 L522.5,590.58 L523.0,590.75 L523.5,590.92 L524.0,591.09 L524.5,591.26 L525.0,591.44 L525.5,591.61 L526.0,591.78 L526.5,591.95 L527.0,592.12 L527.5,592.29 L528.0,592.46 L528.5,592.63 L529.0,592.79 L529.5,592.96 L530.0,593.13 L530.5,593.30 L531.0,593.47 L531.5,593.63 L532.0,593.80 L532.5,593.96 L533.0,594.13 L533.5,594.29 L534.0,594.46 L534.5,594.62 L535.0,594.79 L535.5,594.95 L536.0,595.12 L536.5,595.28 L537.0,595.44 L537.5,595.60 L538.0,595.77 L538.5,595.93 L539.0,596.09 L539.5,596.25 L540.0,596.41 L540.5,596.57 L541.0,596.73 L541.5,596.89 L542.0,597.05 L542.5,597.21 L543.0,597.36 L543.5,597.52 L544.0,597.68 L544.5,597.84 L545.0,597.99 L545.5,598.15 L546.0,598.31 L546.5,598.46 L547.0,598.62 L547.5,598.77 L548.0,598.93 L548.5,599.08 L549.0,599.23 L549.5,599.39 L550.0,599.54 L550.5,599.69 L551.0,599.84 L551.5,600.00 L552.0,600.15 L552.5,600.30 L553.0,600.45 L553.5,600.60 L554.0,600.75 L554.5,600.90 L555.0,601.05 L555.5,601.20 L556.0,601.34 L556.5,601.49 L557.0,601.64 L557.5,601.79 L558.0,601.93 L558.5,602.08 L559.0,602.23 L559.5,602.37 L560.0,602.52 L560.5,602.66 L561.0,602.80 L561.5,602.95 L562.0,603.09 L562.5,603.24 L563.0,603.38 L563.5,603.52 L564.0,603.66 L564.5,603.80 L565.0,603.94 L565.5,604.09 L566.0,604.23 L566.5,604.37 L567.0,604.51 L567.5,604.64 L568.0,604.78 L568.5,604.92 L569.0,605.06 L569.5,605.20 L570.0,605.33 L570.5,605.47 L571.0,605.61 L571.5,605.74 L572.0,605.88 L572.5,606.02 L573.0,606.15 L573.5,606.28 L574.0,606.42 L574.5,606.55 L575.0,606.69 L575.5,606.82 L576.0,606.95 L576.5,607.08 L577.0,607.22 L577.5,607.35 L578.0,607.48 L578.5,607.61 L579.0,607.74 L579.5,607.87 L580.0,608.00 L580.5,608.13 L581.0,608.26 L581.5,608.39 L582.0,608.51 L582.5,608.64 L583.0,608.77 L583.5,608.90 L584.0,609.02 L584.5,609.15 L585.0,609.28 L585.5,609.40 L586.0,609.53 L586.5,609.65 L587.0,609.78 L587.5,609.90 L588.0,610.02 L588.5,610.15 L589.0,610.27 L589.5,610.39 L590.0,610.51 L590.5,610.64 L591.0,610.76 L591.5,610.88 L592.0,611.00 L592.5,611.12 L593.0,611.24 L593.5,611.36 L594.0,611.48 L594.5,611.60 L595.0,611.72 L595.5,611.83 L596.0,611.95 L596.5,612.07 L597.0,612.19 L597.5,612.30 L598.0,612.42 L598.5,612.54 L599.0,612.65 L599.5,612.77 L600.0,612.88 L600.5,613.00 L601.0,613.11 L601.5,613.23 L602.0,613.34 L602.5,613.45 L603.0,613.56 L603.5,613.68 L604.0,613.79 L604.5,613.90 L605.0,614.01 L605.5,614.12 L606.0,614.23 L606.5,614.34 L607.0,614.46 L607.5,614.56 L608.0,614.67 L608.5,614.78 L609.0,614.89 L609.5,615.00 L610.0,615.11 L610.5,615.22 L611.0,615.32 L611.5,615.43 L612.0,615.54 L612.5,615.64 L613.0,615.75 L613.5,615.85 L614.0,615.96 L614.5,616.06 L615.0,616.17 L615.5,616.27 L616.0,616.38 L616.5,616.48 L617.0,616.58 L617.5,616.69 L618.0,616.79 L618.5,616.89 L619.0,616.99 L619.5,617.09 L620.0,617.20 L620.5,617.30 L621.0,617.40 L621.5,617.50 L622.0,617.60 L622.5,617.70 L623.0,617.80 L623.5,617.89 L624.0,617.99 L624.5,618.09 L625.0,618.19 L625.5,618.29 L626.0,618.38 L626.5,618.48 L627.0,618.58 L627.5,618.67 L628.0,618.77 L628.5,618.86 L629.0,618.96 L629.5,619.05 L630.0,619.15 L630.5,619.24 L631.0,619.34 L631.5,619.43 L632.0,619.52 L632.5,619.62 L633.0,619.71 L633.5,619.80 L634.0,619.89 L634.5,619.98 L635.0,620.08 L635.5,620.17 L636.0,620.26 L636.5,620.35 L637.0,620.44 L637.5,620.53 L638.0,620.62 L638.5,620.70 L639.0,620.79 L639.5,620.88 L640.0,620.97 L640.5,621.06 L641.0,621.14 L641.5,621.23 L642.0,621.32 L642.5,621.40 L643.0,621.49 L643.5,621.58 L644.0,621.66 L644.5,621.75 L645.0,621.83 L645.5,621.92 L646.0,622.00 L646.5,622.08 L647.0,622.17 L647.5,622.25 L648.0,622.33 L648.5,622.42 L649.0,622.50 L649.5,622.58 L650.0,622.66 L650.5,622.74 L651.0,622.82 L651.5,622.91 L652.0,622.99 L652.5,623.07 L653.0,623.15 L653.5,623.22 L654.0,623.30 L654.5,623.38 L655.0,623.46 L655.5,623.54" stroke="#ff00ff"/>
<path d="M154.6,322.50 L155.1,322.54 L155.6,322.61 L156.1,322.72 L156.6,322.86 L157.1,323.03 L157.6,323.23 L158.1,323.44 L158.6,323.68 L159.1,323.94 L159.6,324.21 L160.1,324.50 L160.6,324.80 L161.1,325.12 L161.6,325.45 L162.1,325.80 L162.6,326.15 L163.1,326.52 L163.6,326.90 L164.1,327.29 L164.6,327.68 L165.1,328.09 L165.6,328.50 L166.1,328.93 L166.6,329.36 L167.1,329.79 L167.6,330.24 L168.1,330.69 L168.6,331.15 L169.1,331.62 L169.6,332.09 L170.1,332.57 L170.6,333.05 L171.1,333.54 L171.6,334.03 L172.1,334.53 L172.6,335.04 L173.1,335.55 L173.6,336.06 L174.1,336.58 L174.6,337.11 L175.1,337.64 L175.6,338.17 L176.1,338.71 L176.6,339.25 L177.1,339.79 L177.6,340.34 L178.1,340.90 L178.6,341.45 L179.1,342.01 L179.6,342.57 L180.1,343.13 L180.6,343.70 L181.1,344.26 L181.6,344.83 L182.1,345.40 L182.6,345.97 L183.1,346.55 L183.6,347.12 L184.1,347.70 L184.6,348.27 L185.1,348.85 L185.6,349.43 L186.1,350.01 L186.6,350.59 L187.1,351.17 L187.6,351.75 L188.1,352.33 L188.6,352.91 L189.1,353.49 L189.6,354.07 L190.1,354.65 L190.6,355.23 L191.1,355.81 L191.6,356.38 L192.1,356.96 L192.6,357.54 L193.1,358.12 L193.6,358.69 L194.1,359.27 L194.6,359.84 L195.1,360.42 L195.6,360.99 L196.1,361.56 L196.6,362.13 L197.1,362.70 L197.6,363.27 L198.1,363.84 L198.6,364.41 L199.1,364.97 L199.6,365.54 L200.0,365.99 L200.5,366.55 L201.0,367.11 L201.5,367.66 L202.0,368.22 L202.5,368.78 L203.0,369.33 L203.5,369.88 L204.0,370.43 L204.5,370.98 L205.0,371.53 L205.5,372.07 L206.0,372.62 L206.5,373.16 L207.0,373.70 L207.5,374.24 L208.0,374.77 L208.5,375.31 L209.0,375.84 L209.5,376.37 L210.0,376.90 L210.5,377.42 L211.0,377.95 L211.5,378.47 L212.0,378.99 L212.5,379.51 L213.0,380.03 L213.5,380.54 L214.0,381.05 L214.5,381.56 L215.0,382.07 L215.5,382.58 L216.0,383.08 L216.5,383.58 L217.0,384.08 L217.5,384.58 L218.0,385.07 L218.5,385.57 L219.0,386.06 L219.5,386.55 L220.0,387.03 L220.5,387.52 L221.0,388.00 L221.5,388.49 L222.0,388.97 L222.5,389.44 L223.0,389.92 L223.5,390.39 L224.0,390.87 L224.5,391.34 L225.0,391.81 L225.5,392.27 L226.0,392.74 L226.5,393.20 L227.0,393.67 L227.5,394.13 L228.0,394.59 L228.5,395.04 L229.0,395.50 L229.5,395.95 L230.0,396.41 L230.5,396.86 L231.0,397.31 L231.5,397.75 L232.0,398.20 L232.5,398.64 L233.0,399.09 L233.5,399.53 L234.0,399.97 L234.5,400.41 L235.0,400.84 L235.5,401.28 L236.0,401.71 L236.5,402.14 L237.0,402.58 L237.5,403.00 L238.0,403.43 L238.5,403.86 L239.0,404.28 L239.5,404.71 L240.0,405.13 L240.5,405.55 L241.0,405.97 L241.5,406.39 L242.0,406.81 L242.5,407.22 L243.0,407.64 L243.5,408.05 L244.0,408.46 L244.5,408.87 L245.0,409.28 L245.5,409.69 L246.0,410.10 L246.5,410.50 L247.0,410.91 L247.5,411.31 L248.0,411.71 L248.5,412.11 L249.0,412.51 L249.5,412.91 L250.0,413.30 L250.5,413.70 L251.0,414.09 L251.5,414.49 L252.0,414.88 L252.5,415.27 L253.0,415.66 L253.5,416.05 L254.0,416.43 L254.5,416.82 L255.0,417.20 L255.5,417.59 L256.0,417.97 L256.5,418.35 L257.0,418.73 L257.5,419.11 L258.0,419.49 L258.5,419.87 L259.0,420.24 L259.5,420.62 L260.0,420.99 L260.5,421.36 L261.0,421.73 L261.5,422.10 L262.0,422.47 L262.5,422.84 L263.0,423.21 L263.5,423.58 L264.0,423.94 L264.5,424.31 L265.0,424.67 L265.5,425.03 L266.0,425.39 L266.5,425.75 L267.0,426.11 L267.5,426.47 L268.0,426.83 L268.5,427.18 L269.0,427.54 L269.5,427.89 L270.0,428.25 L270.5,428.60 L271.0,428.95 L271.5,429.30 L272.0,429.65 L272.5,430.00 L273.0,430.35 L273.5,430.69 L274.0,431.04 L274.5,431.39 L275.0,431.73 L275.5,432.07 L276.0,432.42 L276.5,432.76 L277.0,433.10 L277.5,433.44 L278.0,433.78 L278.5,434.12 L279.0,434.45 L279.5,434.79 L280.0,435.13 L280.5,435.46 L281.0,435.80 L281.5,436.13 L282.0,436.46 L282.5,436.80 L283.0,437.13 L283.5,437.46 L284.0,437.79 L284.5,438.12 L285.0,438.45 L285.5,438.78 L286.0,439.10 L286.5,439.43 L287.0,439.76 L287.5,440.08 L288.0,440.41 L288.5,440.73 L289.0,441.06 L289.5,441.38 L290.0,441.70 L290.5,442.03 L291.0,442.35 L291.5,442.67 L292.0,442.99 L292.5,443.31 L293.0,443.63 L293.5,443.95 L294.0,444.27 L294.5,444.58 L295.0,444.90 L295.5,445.22 L296.0,445.53 L296.5,445.85 L297.0,446.16 L297.5,446.48 L298.0,446.79 L298.5,447.11 L299.0,447.42 L299.5,447.73 L300.0,448.05 L300.5,448.36 L301.0,448.67 L301.5,448.98 L302.0,449.29 L302.5,449.60 L303.0,449.91 L303.5,450.22 L304.0,450.53 L304.5,450.84 L305.0,451.15 L305.5,451.45 L306.0,451.76 L306.5,452.07 L307.0,452.38 L307.5,452.68 L308.0,452.99 L308.5,453.29 L309.0,453.60 L309.5,453.90 L310.0,454.21 L310.5,454.51 L311.0,454.82 L311.5,455.12 L312.0,455.42 L312.5,455.73 L313.0,456.03 L313.5,456.33 L314.0,456.63 L314.5,456.94 L315.0,457.24 L315.5,457.54 L316.0,457.84 L316.5,458.14 L317.0,458.44 L317.5,458.74 L318.0,459.04 L318.5,459.34 L319.0,459.64 L319.5,459.94 L320.0,460.24 L320.5,460.53 L321.0,460.83 L321.5,461.13 L322.0,461.43 L322.5,461.73 L323.0,462.02 L323.5,462.32 L324.0,462.62 L324.5,462.92 L325.0,463.21 L325.5,463.51 L326.0,463.80 L326.5,464.10 L327.0,464.40 L327.5,464.69 L328.0,464.99 L328.5,465.28 L329.0,465.58 L329.5,465.87 L330.0,466.17 L330.5,466.46 L331.0,466.76 L331.5,467.05 L332.0,467.35 L332.5,467.64 L333.0,467.93 L333.5,468.23 L334.0,468.52 L334.5,468.82 L335.0,469.11 L335.5,469.40 L336.0,469.69 L336.5,469.99 L337.0,470.28 L337.5,470.57 L338.0,470.87 L338.5,471.16 L339.0,471.45 L339.5,471.74 L340.0,472.04 L340.5,472.33 L341.0,472.62 L341.5,472.91 L342.0,473.20 L342.5,473.46 L343.0,473.66 L343.5,473.87 L344.0,474.07 L344.5,474.28 L345.0,474.48 L345.5,474.69 L346.0,474.90 L346.5,475.10 L347.0,475.31 L347.5,475.52 L348.0,475.73 L348.5,475.94 L349.0,476.15 L349.5,476.36 L350.0,476.58 L350.5,476.79 L351.0,477.00 L351.5,477.21 L352.0,477.43 L352.5,477.64 L353.0,477.86 L353.5,478.07 L354.0,478.29 L354.5,478.51 L355.0,478.72 L355.5,478.94 L356.0,479.16 L356.5,479.38 L357.0,479.60 L357.5,479.82 L358.0,480.04 L358.5,480.26 L359.0,480.48 L359.5,480.70 L360.0,480.92 L360.5,481.14 L361.0,481.37 L361.5,481.59 L362.0,481.81 L362.5,482.04 L363.0,482.26 L363.5,482.49 L364.0,482.71 L364.5,482.93 L365.0,483.16 L365.5,483.39 L366.0,483.61 L366.5,483.84 L367.0,484.06 L367.5,484.29 L368.0,484.52 L368.5,484.75 L369.0,484.97 L369.5,485.20 L370.0,485.43 L370.5,485.66 L371.0,485.89 L371.5,486.11 L372.0,486.34 L372.5,486.57 L373.0,486.80 L373.5,487.03 L374.0,487.26 L374.5,487.49 L375.0,487.72 L375.5,487.95 L376.0,488.18 L376.5,488.41 L377.0,488.65 L377.5,488.88 L378.0,489.11 L378.5,489.34 L379.0,489.57 L379.5,489.80 L380.0,490.03 L380.5,490.27 L381.0,490.50 L381.5,490.73 L382.0,490.96 L382.5,491.19 L383.0,491.43 L383.5,491.66 L384.0,491.89 L384.5,492.12 L385.0,492.36 L385.5,492.59 L386.0,492.82 L386.5,493.05 L387.0,493.29 L387.5,493.52 L388.0,493.75 L388.5,493.98 L389.0,494.22 L389.5,494.45 L390.0,494.68 L390.5,494.92 L391.0,495.15 L391.5,495.38 L392.0,495.61 L392.5,495.85 L393.0,496.08 L393.5,496.31 L394.0,496.54 L394.5,496.78 L395.0,497.01 L395.5,497.24 L396.0,497.47 L396.5,497.71 L397.0,497.94 L397.5,498.17 L398.0,498.40 L398.5,498.63 L399.0,498.87 L399.5,499.10 L400.0,499.33 L400.5,499.56 L401.0,499.79 L401.5,500.02 L402.0,500.25 L402.5,500.49 L403.0,500.72 L403.5,500.95 L404.0,501.18 L404.5,501.41 L405.0,501.64 L405.5,501.87 L406.0,502.10 L406.5,502.33 L407.0,502.56 L407.5,502.79 L408.0,503.02 L408.5,503.25 L409.0,503.48 L409.5,503.70 L410.0,503.93 L410.5,504.16 L411.0,504.39 L411.5,504.62 L412.0,504.84 L412.5,505.07 L413.0,505.30 L413.5,505.53 L414.0,505.75 L414.5,505.98 L415.0,506.21 L415.5,506.43 L416.0,506.66 L416.5,506.88 L417.0,507.11 L417.5,507.33 L418.0,507.56 L418.5,507.78 L419.0,508.01 L419.5,508.23 L420.0,508.46 L420.5,508.68 L421.0,508.90 L421.5,509.12 L422.0,509.35 L422.5,509.57 L423.0,509.79 L423.5,510.01 L424.0,510.23 L424.5,510.46 L425.0,510.68 L425.5,510.90 L426.0,511.12 L426.5,511.34 L427.0,511.56 L427.5,511.78 L428.0,511.99 L428.5,512.21 L429.0,512.43 L429.5,512.65 L430.0,512.87 L430.5,513.08 L431.0,513.30 L431.5,513.52 L432.0,513.73 L432.5,513.95 L433.0,514.16 L433.5,514.38 L434.0,514.59 L434.5,514.81 L435.0,515.02 L435.5,515.23 L436.0,515.45 L436.5,515.66 L437.0,515.87 L437.5,516.08 L438.0,516.30 L438.5,516.51 L439.0,516.72 L439.5,516.93 L440.0,517.14 L440.5,517.35 L441.0,517.56 L441.5,517.77 L442.0,517.98 L442.5,518.19 L443.0,518.40 L443.5,518.61 L444.0,518.81 L444.5,519.02 L445.0,519.23 L445.5,519.44 L446.0,519.64 L446.5,519.85 L447.0,520.05 L447.5,520.26 L448.0,520.47 L448.5,520.67 L449.0,520.88 L449.5,521.08 L450.0,521.28 L450.5,521.49 L451.0,521.69 L451.5,521.90 L452.0,522.10 L452.5,522.30 L453.0,522.50 L453.5,522.71 L454.0,522.91 L454.5,523.11 L455.0,523.31 L455.5,523.51 L456.0,523.71 L456.5,523.91 L457.0,524.11 L457.5,524.31 L458.0,524.51 L458.5,524.71 L459.0,524.91 L459.5,525.11 L460.0,525.31 L460.5,525.51 L461.0,525.70 L461.5,525.90 L462.0,526.10 L462.5,526.30 L463.0,526.49 L463.5,526.69 L464.0,526.88 L464.5,527.08 L465.0,527.28 L465.5,527.47 L466.0,527.67 L466.5,527.86 L467.0,528.06 L467.5,528.25 L468.0,528.44 L468.5,528.64 L469.0,528.83 L469.5,529.02 L470.0,529.22 L470.5,529.41 L471.0,529.60 L471.5,529.80 L472.0,529.99 L472.5,530.18 L473.0,530.37 L473.5,530.56 L474.0,530.75 L474.5,530.94 L475.0,531.13 L475.5,531.32 L476.0,531.51 L476.5,531.70 L477.0,531.89 L477.5,532.08 L478.0,532.27 L478.5,532.46 L479.0,532.65 L479.5,532.84 L480.0,533.02 L480.5,533.21 L481.0,533.40 L481.5,533.59 L482.0,533.77 L482.5,533.96 L483.0,534.15 L483.5,534.33 L484.0,534.52 L484.5,534.70 L485.0,534.89 L485.5,535.07 L486.0,535.26 L486.5,535.44 L487.0,535.63 L487.5,535.81 L488.0,536.00 L488.5,536.18 L489.0,536.36 L489.5,536.55 L490.0,536.73 L490.5,536.91 L491.0,537.10 L491.5,537.28 L492.0,537.46 L492.5,537.64 L493.0,537.83 L493.5,538.01 L494.0,538.19 L494.5,538.37 L495.0,538.55 L495.5,538.73 L496.0,538.91 L496.5,539.09 L497.0,539.27 L497.5,539.45 L498.0,539.63 L498.5,539.81 L499.0,539.99 L499.5,540.17 L500.0,540.35 L500.5,540.53 L501.0,540.71 L501.5,540.88 L502.0,541.06 L502.5,541.24 L503.0,541.42 L503.5,541.59 L504.0,541.77 L504.5,541.95 L505.0,542.13 L505.5,542.30 L506.0,542.48 L506.5,542.65 L507.0,542.83 L507.5,543.01 L508.0,543.18 L508.5,543.36 L509.0,543.53 L509.5,543.71 L510.0,543.88 L510.5,544.06 L511.0,544.23 L511.5,544.40 L512.0,544.58 L512.5,544.75 L513.0,544.93 L513.5,545.10 L514.0,545.27 L514.5,545.45 L515.0,545.62 L515.5,545.79 L516.0,545.96 L516.5,546.14 L517.0,546.31 L517.5,546.48 L518.0,546.65 L518.5,546.82 L519.0,546.99 L519.5,547.17 L520.0,547.34 L520.5,547.51 L521.0,547.68 L521.5,547.85 L522.0,548.02 L522.5,548.19 L523.0,548.36 L523.5,548.53 L524.0,548.70 L524.5,548.87 L525.0,549.04 L525.5,549.21 L526.0,549.37 L526.5,549.54 L527.0,549.71 L527.5,549.88 L528.0,550.05 L528.5,550.22 L529.0,550.38 L529.5,550.55 L530.0,550.72 L530.5,550.89 L531.0,551.05 L531.5,551.22 L532.0,551.39 L532.5,551.55 L533.0,551.72 L533.5,551.89 L534.0,552.05 L534.5,552.22 L535.0,552.38 L535.5,552.55 L536.0,552.71 L536.5,552.88 L537.0,553.04 L537.5,553.21 L538.0,553.37 L538.5,553.54 L539.0,553.70 L539.5,553.87 L540.0,554.03 L540.5,554.20 L541.0,554.36 L541.5,554.52 L542.0,554.69 L542.5,554.85 L543.0,555.01 L543.5,555.17 L544.0,555.34 L544.5,555.50 L545.0,555.66 L545.5,555.82 L546.0,555.99 L546.5,556.15 L547.0,556.31 L547.5,556.47 L548.0,556.63 L548.5,556.79 L549.0,556.95 L549.5,557.12 L550.0,557.28 L550.5,557.44 L551.0,557.60 L551.5,557.76 L552.0,557.92 L552.5,558.08 L553.0,558.24 L553.5,558.40 L554.0,558.55 L554.5,558.71 L555.0,558.87 L555.5,559.03 L556.0,559.19 L556.5,559.35 L557.0,559.51 L557.5,559.66 L558.0,559.82 L558.5,559.98 L559.0,560.14 L559.5,560.29 L560.0,560.45 L560.5,560.61 L561.0,560.76 L561.5,560.92 L562.0,561.08 L562.5,561.23 L563.0,561.39 L563.5,561.54 L564.0,561.70 L564.5,561.85 L565.0,562.01 L565.5,562.16 L566.0,562.32 L566.5,562.47 L567.0,562.63 L567.5,562.78 L568.0,562.93 L568.5,563.09 L569.0,563.24 L569.5,563.40 L570.0,563.55 L570.5,563.70 L571.0,563.85 L571.5,564.01 L572.0,564.16 L572.5,564.31 L573.0,564.46 L573.5,564.61 L574.0,564.77 L574.5,564.92 L575.0,565.07 L575.5,565.22 L576.0,565.37 L576.5,565.52 L577.0,565.67 L577.5,565.82 L578.0,565.97 L578.5,566.12 L579.0,566.27 L579.5,566.42 L580.0,566.57 L580.5,566.72 L581.0,566.87 L581.5,567.02 L582.0,567.16 L582.5,567.31 L583.0,567.46 L583.5,567.61 L584.0,567.76 L584.5,567.90 L585.0,568.05 L585.5,568.20 L586.0,568.35 L586.5,568.49 L587.0,568.64 L587.5,568.78 L588.0,568.93 L588.5,569.08 L589.0,569.22 L589.5,569.37 L590.0,569.51 L590.5,569.66 L591.0,569.80 L591.5,569.95 L592.0,570.09 L592.5,570.24 L593.0,570.38 L593.5,570.52 L594.0,570.67 L594.5,570.81 L595.0,570.95 L595.5,571.10 L596.0,571.24 L596.5,571.38 L597.0,571.52 L597.5,571.67 L598.0,571.81 L598.5,571.95 L599.0,572.09 L599.5,572.23 L600.0,572.37 L600.5,572.51 L601.0,572.65 L601.5,572.79 L602.0,572.93 L602.5,573.07 L603.0,573.21 L603.5,573.35 L604.0,573.49 L604.5,573.63 L605.0,573.77 L605.5,573.91 L606.0,574.05 L606.5,574.19 L607.0,574.33 L607.5,574.46 L608.0,574.60 L608.5,574.74 L609.0,574.88 L609.5,575.01 L610.0,575.15 L610.5,575.29 L611.0,575.42 L611.5,575.56 L612.0,575.69 L612.5,575.83 L613.0,575.97 L613.5,576.10 L614.0,576.24 L614.5,576.37 L615.0,576.51 L615.5,576.64 L616.0,576.77 L616.5,576.91 L617.0,577.04 L617.5,577.18 L618.0,577.31 L618.5,577.44 L619.0,577.57 L619.5,577.71 L620.0,577.84 L620.5,577.97 L621.0,578.10 L621.5,578.24 L622.0,578.37 L622.5,578.50 L623.0,578.63 L623.5,578.76 L624.0,578.89 L624.5,579.02 L625.0,579.15 L625.5,579.28 L626.0,579.41 L626.5,579.54 L627.0,579.67 L627.5,579.80 L628.0,579.93 L628.5,580.06 L629.0,580.19 L629.5,580.32 L630.0,580.44 L630.5,580.57 L631.0,580.70 L631.5,580.83 L632.0,580.95 L632.5,581.08 L633.0,581.21 L633.5,581.33 L634.0,581.46 L634.5,581.59 L635.0,581.71 L635.5,581.84 L636.0,581.96 L636.5,582.09 L637.0,582.21 L637.5,582.34 L638.0,582.46 L638.5,582.59 L639.0,582.71 L639.5,582.83 L640.0,582.96 L640.5,583.08 L641.0,583.20 L641.5,583.33 L642.0,583.45 L642.5,583.57 L643.0,583.69 L643.5,583.82 L644.0,583.94 L644.5,584.06 L645.0,584.18 L645.5,584.30 L646.0,584.42 L646.5,584.54 L647.0,584.66 L647.5,584.78 L648.0,584.90 L648.5,585.02 L649.0,585.14 L649.5,585.26 L650.0,585.38 L650.5,585.50 L651.0,585.62 L651.5,585.74 L652.0,585.85 L652.5,585.97 L653.0,586.09 L653.5,586.21 L654.0,586.32 L654.5,586.44 L655.0,586.56 L655.5,586.67" stroke="#808000" stroke-dasharray="7.1 4.8"/>
<path d="M154.6,322.50 L155.1,322.92 L155.6,323.31 L156.1,323.68 L156.6,324.02 L157.1,324.34 L157.6,324.65 L158.1,324.95 L158.6,325.24 L159.1,325.53 L159.6,325.81 L160.1,326.09 L160.6,326.37 L161.1,326.65 L161.6,326.93 L162.1,327.22 L162.6,327.50 L163.1,327.79 L163.6,328.08 L164.1,328.38 L164.6,328.68 L165.1,328.99 L165.6,329.30 L166.1,329.62 L166.6,329.94 L167.1,330.27 L167.6,330.61 L168.1,330.96 L168.6,331.31 L169.1,331.67 L169.6,332.03 L170.1,332.41 L170.6,332.79 L171.1,333.18 L171.6,333.57 L172.1,333.98 L172.6,334.38 L173.1,334.80 L173.6,335.22 L174.1,335.64 L174.6,336.06 L175.1,336.49 L175.6,336.93 L176.1,337.36 L176.6,337.80 L177.1,338.25 L177.6,338.69 L178.1,339.14 L178.6,339.59 L179.1,340.04 L179.6,340.49 L180.1,340.94 L180.6,341.39 L181.1,341.85 L181.6,342.30 L182.1,342.76 L182.6,343.21 L183.1,343.67 L183.6,344.12 L184.1,344.58 L184.6,345.04 L185.1,345.49 L185.6,345.95 L186.1,346.40 L186.6,346.85 L187.1,347.31 L187.6,347.76 L188.1,348.21 L188.6,348.66 L189.1,349.11 L189.6,349.55 L190.1,350.00 L190.6,350.44 L191.1,350.88 L191.6,351.32 L192.1,351.76 L192.6,352.20 L193.1,352.64 L193.6,353.07 L194.1,353.50 L194.6,353.93 L195.1,354.36 L195.6,354.78 L196.1,355.21 L196.6,355.63 L197.1,356.05 L197.6,356.46 L198.1,356.88 L198.6,357.29 L199.1,357.70 L199.6,358.11 L200.0,358.43 L200.5,358.84 L201.0,359.24 L201.5,359.64 L202.0,360.04 L202.5,360.44 L203.0,360.83 L203.5,361.23 L204.0,361.62 L204.5,362.01 L205.0,362.40 L205.5,362.79 L206.0,363.17 L206.5,363.56 L207.0,363.94 L207.5,364.32 L208.0,364.70 L208.5,365.08 L209.0,365.46 L209.5,365.84 L210.0,366.21 L210.5,366.58 L211.0,366.96 L211.5,367.33 L212.0,367.70 L212.5,368.07 L213.0,368.44 L213.5,368.80 L214.0,369.17 L214.5,369.53 L215.0,369.90 L215.5,370.26 L216.0,370.62 L216.5,370.98 L217.0,371.34 L217.5,371.70 L218.0,372.06 L218.5,372.42 L219.0,372.78 L219.5,373.13 L220.0,373.49 L220.5,373.84 L221.0,374.19 L221.5,374.55 L222.0,374.90 L222.5,375.25 L223.0,375.60 L223.5,375.95 L224.0,376.30 L224.5,376.65 L225.0,377.00 L225.5,377.34 L226.0,377.69 L226.5,378.04 L227.0,378.38 L227.5,378.73 L228.0,379.07 L228.5,379.42 L229.0,379.76 L229.5,380.10 L230.0,380.45 L230.5,380.79 L231.0,381.13 L231.5,381.47 L232.0,381.81 L232.5,382.15 L233.0,382.49 L233.5,382.83 L234.0,383.17 L234.5,383.51 L235.0,383.85 L235.5,384.19 L236.0,384.52 L236.5,384.86 L237.0,385.20 L237.5,385.54 L238.0,385.87 L238.5,386.21 L239.0,386.54 L239.5,386.88 L240.0,387.21 L240.5,387.54 L241.0,387.88 L241.5,388.21 L242.0,388.54 L242.5,388.87 L243.0,389.20 L243.5,389.53 L244.0,389.86 L244.5,390.19 L245.0,390.52 L245.5,390.85 L246.0,391.17 L246.5,391.50 L247.0,391.83 L247.5,392.15 L248.0,392.47 L248.5,392.80 L249.0,393.12 L249.5,393.44 L250.0,393.77 L250.5,394.09 L251.0,394.41 L251.5,394.73 L252.0,395.04 L252.5,395.36 L253.0,395.68 L253.5,396.00 L254.0,396.31 L254.5,396.63 L255.0,396.94 L255.5,397.25 L256.0,397.57 L256.5,397.88 L257.0,398.19 L257.5,398.50 L258.0,398.81 L258.5,399.12 L259.0,399.43 L259.5,399.73 L260.0,400.04 L260.5,400.34 L261.0,400.65 L261.5,400.95 L262.0,401.25 L262.5,401.55 L263.0,401.86 L263.5,402.16 L264.0,402.45 L264.5,402.75 L265.0,403.05 L265.5,403.35 L266.0,403.64 L266.5,403.94 L267.0,404.23 L267.5,404.52 L268.0,404.81 L268.5,405.10 L269.0,405.39 L269.5,405.68 L270.0,405.97 L270.5,406.26 L271.0,406.54 L271.5,406.83 L272.0,407.11 L272.5,407.40 L273.0,407.68 L273.5,407.96 L274.0,408.24 L274.5,408.52 L275.0,408.80 L275.5,409.07 L276.0,409.35 L276.5,409.63 L277.0,409.90 L277.5,410.17 L278.0,410.44 L278.5,410.72 L279.0,410.99 L279.5,411.26 L280.0,411.52 L280.5,411.79 L281.0,412.06 L281.5,412.32 L282.0,412.59 L282.5,412.85 L283.0,413.11 L283.5,413.37 L284.0,413.63 L284.5,413.89 L285.0,414.15 L285.5,414.40 L286.0,414.66 L286.5,414.92 L287.0,415.17 L287.5,415.42 L288.0,415.68 L288.5,415.93 L289.0,416.18 L289.5,416.43 L290.0,416.68 L290.5,416.92 L291.0,417.17 L291.5,417.42 L292.0,417.67 L292.5,417.91 L293.0,418.16 L293.5,418.40 L294.0,418.64 L294.5,418.89 L295.0,419.13 L295.5,419.37 L296.0,419.61 L296.5,419.85 L297.0,420.09 L297.5,420.33 L298.0,420.57 L298.5,420.81 L299.0,421.04 L299.5,421.28 L300.0,421.52 L300.5,421.75 L301.0,421.99 L301.5,422.22 L302.0,422.46 L302.5,422.69 L303.0,422.93 L303.5,423.16 L304.0,423.39 L304.5,423.63 L305.0,423.86 L305.5,424.09 L306.0,424.32 L306.5,424.55 L307.0,424.79 L307.5,425.02 L308.0,425.25 L308.5,425.48 L309.0,425.71 L309.5,425.94 L310.0,426.17 L310.5,426.40 L311.0,426.63 L311.5,426.85 L312.0,427.08 L312.5,427.31 L313.0,427.54 L313.5,427.77 L314.0,428.00 L314.5,428.22 L315.0,428.45 L315.5,428.68 L316.0,428.91 L316.5,429.14 L317.0,429.36 L317.5,429.59 L318.0,429.82 L318.5,430.08 L319.0,430.38 L319.5,430.71 L320.0,431.21 L320.5,431.70 L321.0,431.87 L321.5,431.95 L322.0,432.03 L322.5,432.14 L323.0,432.25 L323.5,432.37 L324.0,432.55 L324.5,432.78 L325.0,433.00 L325.5,433.23 L326.0,433.46 L326.5,433.69 L327.0,433.92 L327.5,434.14 L328.0,434.37 L328.5,434.60 L329.0,434.83 L329.5,435.06 L330.0,435.29 L330.5,435.52 L331.0,435.75 L331.5,435.97 L332.0,436.20 L332.5,436.43 L333.0,436.66 L333.5,436.89 L334.0,437.13 L334.5,437.36 L335.0,437.59 L335.5,437.82 L336.0,438.05 L336.5,438.28 L337.0,438.51 L337.5,438.75 L338.0,438.98 L338.5,439.21 L339.0,439.45 L339.5,439.68 L340.0,439.91 L340.5,440.26 L341.0,440.60 L341.5,441.18 L342.0,441.81 L342.5,442.16 L343.0,442.09 L343.5,442.02 L344.0,441.97 L344.5,441.95 L345.0,441.93 L345.5,441.94 L346.0,442.09 L346.5,442.25 L347.0,442.40 L347.5,442.55 L348.0,442.71 L348.5,442.86 L349.0,443.02 L349.5,443.17 L350.0,443.33 L350.5,443.48 L351.0,443.64 L351.5,443.80 L352.0,443.96 L352.5,444.12 L353.0,444.28 L353.5,444.44 L354.0,444.60 L354.5,444.76 L355.0,444.93 L355.5,445.09 L356.0,445.25 L356.5,445.42 L357.0,445.58 L357.5,445.75 L358.0,445.92 L358.5,446.08 L359.0,446.25 L359.5,446.42 L360.0,446.58 L360.5,446.75 L361.0,446.92 L361.5,447.09 L362.0,447.26 L362.5,447.43 L363.0,447.60 L363.5,447.77 L364.0,447.95 L364.5,448.12 L365.0,448.29 L365.5,448.46 L366.0,448.64 L366.5,448.81 L367.0,448.98 L367.5,449.16 L368.0,449.33 L368.5,449.51 L369.0,449.69 L369.5,449.86 L370.0,450.04 L370.5,450.22 L371.0,450.39 L371.5,450.57 L372.0,450.75 L372.5,450.93 L373.0,451.11 L373.5,451.29 L374.0,451.46 L374.5,451.64 L375.0,451.82 L375.5,452.00 L376.0,452.18 L376.5,452.37 L377.0,452.55 L377.5,452.73 L378.0,452.91 L378.5,453.09 L379.0,453.27 L379.5,453.46 L380.0,453.64 L380.5,453.82 L381.0,454.01 L381.5,454.19 L382.0,454.37 L382.5,454.56 L383.0,454.74 L383.5,454.93 L384.0,455.11 L384.5,455.30 L385.0,455.48 L385.5,455.67 L386.0,455.85 L386.5,456.04 L387.0,456.22 L387.5,456.41 L388.0,456.60 L388.5,456.78 L389.0,456.97 L389.5,457.15 L390.0,457.34 L390.5,457.53 L391.0,457.72 L391.5,457.90 L392.0,458.09 L392.5,458.28 L393.0,458.47 L393.5,458.65 L394.0,458.84 L394.5,459.03 L395.0,459.22 L395.5,459.41 L396.0,459.59 L396.5,459.78 L397.0,459.97 L397.5,460.16 L398.0,460.35 L398.5,460.54 L399.0,460.73 L399.5,460.92 L400.0,461.10 L400.5,461.29 L401.0,461.48 L401.5,461.67 L402.0,461.86 L402.5,462.05 L403.0,462.24 L403.5,462.43 L404.0,462.62 L404.5,462.81 L405.0,463.00 L405.5,463.19 L406.0,463.38 L406.5,463.57 L407.0,463.75 L407.5,463.94 L408.0,464.13 L408.5,464.32 L409.0,464.51 L409.5,464.70 L410.0,464.89 L410.5,465.08 L411.0,465.27 L411.5,465.46 L412.0,465.65 L412.5,465.84 L413.0,466.03 L413.5,466.22 L414.0,466.41 L414.5,466.60 L415.0,466.79 L415.5,466.97 L416.0,467.16 L416.5,467.35 L417.0,467.54 L417.5,467.73 L418.0,467.92 L418.5,468.11 L419.0,468.30 L419.5,468.49 L420.0,468.67 L420.5,468.86 L421.0,469.05 L421.5,469.24 L422.0,469.43 L422.5,469.61 L423.0,469.80 L423.5,469.99 L424.0,470.18 L424.5,470.37 L425.0,470.55 L425.5,470.74 L426.0,470.93 L426.5,471.11 L427.0,471.30 L427.5,471.49 L428.0,471.68 L428.5,471.86 L429.0,472.05 L429.5,472.23 L430.0,472.42 L430.5,472.61 L431.0,472.79 L431.5,472.98 L432.0,473.16 L432.5,473.35 L433.0,473.53 L433.5,473.72 L434.0,473.91 L434.5,474.09 L435.0,474.27 L435.5,474.46 L436.0,474.64 L436.5,474.83 L437.0,475.01 L437.5,475.20 L438.0,475.38 L438.5,475.56 L439.0,475.75 L439.5,475.93 L440.0,476.12 L440.5,476.30 L441.0,476.48 L441.5,476.66 L442.0,476.85 L442.5,477.03 L443.0,477.21 L443.5,477.40 L444.0,477.58 L444.5,477.76 L445.0,477.94 L445.5,478.12 L446.0,478.31 L446.5,478.49 L447.0,478.67 L447.5,478.85 L448.0,479.03 L448.5,479.22 L449.0,479.40 L449.5,479.58 L450.0,479.76 L450.5,479.94 L451.0,480.12 L451.5,480.30 L452.0,480.48 L452.5,480.66 L453.0,480.84 L453.5,481.02 L454.0,481.20 L454.5,481.38 L455.0,481.56 L455.5,481.74 L456.0,481.92 L456.5,482.10 L457.0,482.28 L457.5,482.46 L458.0,482.64 L458.5,482.82 L459.0,483.00 L459.5,483.18 L460.0,483.36 L460.5,483.54 L461.0,483.72 L461.5,483.90 L462.0,484.08 L462.5,484.26 L463.0,484.43 L463.5,484.61 L464.0,484.79 L464.5,484.97 L465.0,485.15 L465.5,485.33 L466.0,485.50 L466.5,485.68 L467.0,485.86 L467.5,486.04 L468.0,486.22 L468.5,486.39 L469.0,486.57 L469.5,486.75 L470.0,486.93 L470.5,487.11 L471.0,487.28 L471.5,487.46 L472.0,487.64 L472.5,487.81 L473.0,487.99 L473.5,488.17 L474.0,488.35 L474.5,488.52 L475.0,488.70 L475.5,488.88 L476.0,489.05 L476.5,489.23 L477.0,489.41 L477.5,489.58 L478.0,489.76 L478.5,489.94 L479.0,490.11 L479.5,490.29 L480.0,490.47 L480.5,490.64 L481.0,490.82 L481.5,491.00 L482.0,491.17 L482.5,491.35 L483.0,491.52 L483.5,491.70 L484.0,491.88 L484.5,492.05 L485.0,492.23 L485.5,492.40 L486.0,492.58 L486.5,492.75 L487.0,492.93 L487.5,493.11 L488.0,493.28 L488.5,493.46 L489.0,493.63 L489.5,493.81 L490.0,493.98 L490.5,494.16 L491.0,494.33 L491.5,494.51 L492.0,494.68 L492.5,494.86 L493.0,495.03 L493.5,495.21 L494.0,495.38 L494.5,495.56 L495.0,495.73 L495.5,495.91 L496.0,496.08 L496.5,496.26 L497.0,496.43 L497.5,496.61 L498.0,496.78 L498.5,496.96 L499.0,497.13 L499.5,497.31 L500.0,497.48 L500.5,497.66 L501.0,497.83 L501.5,498.01 L502.0,498.18 L502.5,498.36 L503.0,498.53 L503.5,498.70 L504.0,498.88 L504.5,499.05 L505.0,499.23 L505.5,499.40 L506.0,499.58 L506.5,499.75 L507.0,499.93 L507.5,500.10 L508.0,500.27 L508.5,500.45 L509.0,500.62 L509.5,500.80 L510.0,500.97 L510.5,501.15 L511.0,501.32 L511.5,501.49 L512.0,501.67 L512.5,501.84 L513.0,502.02 L513.5,502.19 L514.0,502.36 L514.5,502.54 L515.0,502.71 L515.5,502.89 L516.0,503.06 L516.5,503.23 L517.0,503.41 L517.5,503.58 L518.0,503.76 L518.5,503.93 L519.0,504.10 L519.5,504.28 L520.0,504.45 L520.5,504.63 L521.0,504.80 L521.5,504.97 L522.0,505.15 L522.5,505.32 L523.0,505.50 L523.5,505.67 L524.0,505.84 L524.5,506.02 L525.0,506.19 L525.5,506.37 L526.0,506.54 L526.5,506.71 L527.0,506.89 L527.5,507.06 L528.0,507.24 L528.5,507.41 L529.0,507.58 L529.5,507.76 L530.0,507.93 L530.5,508.11 L531.0,508.28 L531.5,508.45 L532.0,508.63 L532.5,508.80 L533.0,508.98 L533.5,509.15 L534.0,509.32 L534.5,509.50 L535.0,509.67 L535.5,509.85 L536.0,510.02 L536.5,510.19 L537.0,510.37 L537.5,510.54 L538.0,510.72 L538.5,510.89 L539.0,511.06 L539.5,511.24 L540.0,511.41 L540.5,511.59 L541.0,511.76 L541.5,511.93 L542.0,512.11 L542.5,512.28 L543.0,512.46 L543.5,512.63 L544.0,512.80 L544.5,512.98 L545.0,513.15 L545.5,513.33 L546.0,513.50 L546.5,513.67 L547.0,513.85 L547.5,514.02 L548.0,514.19 L548.5,514.37 L549.0,514.54 L549.5,514.72 L550.0,514.89 L550.5,515.06 L551.0,515.24 L551.5,515.41 L552.0,515.59 L552.5,515.76 L553.0,515.93 L553.5,516.11 L554.0,516.28 L554.5,516.45 L555.0,516.63 L555.5,516.80 L556.0,516.98 L556.5,517.15 L557.0,517.32 L557.5,517.50 L558.0,517.67 L558.5,517.84 L559.0,518.02 L559.5,518.19 L560.0,518.36 L560.5,518.54 L561.0,518.71 L561.5,518.88 L562.0,519.06 L562.5,519.23 L563.0,519.40 L563.5,519.58 L564.0,519.75 L564.5,519.92 L565.0,520.10 L565.5,520.27 L566.0,520.44 L566.5,520.62 L567.0,520.79 L567.5,520.96 L568.0,521.14 L568.5,521.31 L569.0,521.48 L569.5,521.65 L570.0,521.83 L570.5,522.00 L571.0,522.17 L571.5,522.35 L572.0,522.52 L572.5,522.69 L573.0,522.86 L573.5,523.04 L574.0,523.21 L574.5,523.38 L575.0,523.55 L575.5,523.73 L576.0,523.90 L576.5,524.07 L577.0,524.24 L577.5,524.41 L578.0,524.59 L578.5,524.76 L579.0,524.93 L579.5,525.10 L580.0,525.28 L580.5,525.45 L581.0,525.62 L581.5,525.79 L582.0,525.96 L582.5,526.13 L583.0,526.31 L583.5,526.48 L584.0,526.65 L584.5,526.82 L585.0,526.99 L585.5,527.16 L586.0,527.34 L586.5,527.51 L587.0,527.68 L587.5,527.85 L588.0,528.02 L588.5,528.19 L589.0,528.36 L589.5,528.53 L590.0,528.70 L590.5,528.88 L591.0,529.05 L591.5,529.22 L592.0,529.39 L592.5,529.56 L593.0,529.73 L593.5,529.90 L594.0,530.07 L594.5,530.24 L595.0,530.41 L595.5,530.58 L596.0,530.75 L596.5,530.92 L597.0,531.09 L597.5,531.26 L598.0,531.43 L598.5,531.60 L599.0,531.77 L599.5,531.94 L600.0,532.11 L600.5,532.28 L601.0,532.45 L601.5,532.62 L602.0,532.79 L602.5,532.96 L603.0,533.13 L603.5,533.30 L604.0,533.47 L604.5,533.64 L605.0,533.81 L605.5,533.98 L606.0,534.14 L606.5,534.31 L607.0,534.48 L607.5,534.65 L608.0,534.82 L608.5,534.99 L609.0,535.16 L609.5,535.32 L610.0,535.49 L610.5,535.66 L611.0,535.83 L611.5,536.00 L612.0,536.17 L612.5,536.33 L613.0,536.50 L613.5,536.67 L614.0,536.84 L614.5,537.01 L615.0,537.17 L615.5,537.34 L616.0,537.51 L616.5,537.68 L617.0,537.84 L617.5,538.01 L618.0,538.18 L618.5,538.34 L619.0,538.51 L619.5,538.68 L620.0,538.85 L620.5,539.01 L621.0,539.18 L621.5,539.35 L622.0,539.51 L622.5,539.68 L623.0,539.84 L623.5,540.01 L624.0,540.18 L624.5,540.34 L625.0,540.51 L625.5,540.68 L626.0,540.84 L626.5,541.01 L627.0,541.17 L627.5,541.34 L628.0,541.50 L628.5,541.67 L629.0,541.83 L629.5,542.00 L630.0,542.16 L630.5,542.33 L631.0,542.49 L631.5,542.66 L632.0,542.82 L632.5,542.99 L633.0,543.15 L633.5,543.32 L634.0,543.48 L634.5,543.65 L635.0,543.81 L635.5,543.98 L636.0,544.14 L636.5,544.30 L637.0,544.47 L637.5,544.63 L638.0,544.80 L638.5,544.96 L639.0,545.12 L639.5,545.29 L640.0,545.45 L640.5,545.61 L641.0,545.78 L641.5,545.94 L642.0,546.10 L642.5,546.26 L643.0,546.43 L643.5,546.59 L644.0,546.75 L644.5,546.92 L645.0,547.08 L645.5,547.24 L646.0,547.40 L646.5,547.56 L647.0,547.73 L647.5,547.89 L648.0,548.05 L648.5,548.21 L649.0,548.37 L649.5,548.53 L650.0,548.70 L650.5,548.86 L651.0,549.02 L651.5,549.18 L652.0,549.34 L652.5,549.50 L653.0,549.66 L653.5,549.82 L654.0,549.98 L654.5,550.14 L655.0,550.30 L655.5,550.46" stroke="#800080"/>
<path d="M154.6,321.90 L155.1,321.90 L155.6,321.90 L156.1,321.90 L156.6,321.90 L157.1,321.99 L157.6,322.14 L158.1,322.32 L158.6,322.52 L159.1,322.74 L159.6,322.98 L160.1,323.23 L160.6,323.49 L161.1,323.76 L161.6,324.04 L162.1,324.34 L162.6,324.64 L163.1,324.94 L163.6,325.25 L164.1,325.57 L164.6,325.90 L165.1,326.22 L165.6,326.55 L166.1,326.89 L166.6,327.23 L167.1,327.57 L167.6,327.91 L168.1,328.25 L168.6,328.60 L169.1,328.95 L169.6,329.30 L170.1,329.65 L170.6,330.00 L171.1,330.35 L171.6,330.70 L172.1,331.05 L172.6,331.40 L173.1,331.75 L173.6,332.10 L174.1,332.45 L174.6,332.80 L175.1,333.14 L175.6,333.49 L176.1,333.84 L176.6,334.18 L177.1,334.53 L177.6,334.87 L178.1,335.21 L178.6,335.55 L179.1,335.89 L179.6,336.23 L180.1,336.57 L180.6,336.90 L181.1,337.24 L181.6,337.57 L182.1,337.90 L182.6,338.24 L183.1,338.57 L183.6,338.90 L184.1,339.23 L184.6,339.56 L185.1,339.89 L185.6,340.21 L186.1,340.54 L186.6,340.86 L187.1,341.19 L187.6,341.51 L188.1,341.83 L188.6,342.15 L189.1,342.47 L189.6,342.79 L190.1,343.11 L190.6,343.43 L191.1,343.75 L191.6,344.06 L192.1,344.38 L192.6,344.69 L193.1,345.00 L193.6,345.32 L194.1,345.63 L194.6,345.94 L195.1,346.25 L195.6,346.56 L196.1,346.87 L196.6,347.18 L197.1,347.48 L197.6,347.79 L198.1,348.09 L198.6,348.40 L199.1,348.70 L199.6,349.00 L200.0,349.25 L200.5,349.55 L201.0,349.85 L201.5,350.15 L202.0,350.45 L202.5,350.75 L203.0,351.04 L203.5,351.34 L204.0,351.64 L204.5,351.93 L205.0,352.22 L205.5,352.52 L206.0,352.81 L206.5,353.10 L207.0,353.40 L207.5,353.69 L208.0,353.98 L208.5,354.27 L209.0,354.55 L209.5,354.84 L210.0,355.13 L210.5,355.42 L211.0,355.70 L211.5,355.99 L212.0,356.27 L212.5,356.55 L213.0,356.84 L213.5,357.12 L214.0,357.40 L214.5,357.68 L215.0,357.96 L215.5,358.24 L216.0,358.52 L216.5,358.80 L217.0,359.07 L217.5,359.35 L218.0,359.63 L218.5,359.90 L219.0,360.18 L219.5,360.45 L220.0,360.72 L220.5,361.00 L221.0,361.27 L221.5,361.54 L222.0,361.81 L222.5,362.08 L223.0,362.35 L223.5,362.62 L224.0,362.88 L224.5,363.15 L225.0,363.42 L225.5,363.68 L226.0,363.95 L226.5,364.21 L227.0,364.48 L227.5,364.74 L228.0,365.00 L228.5,365.26 L229.0,365.53 L229.5,365.79 L230.0,366.05 L230.5,366.31 L231.0,366.56 L231.5,366.82 L232.0,367.08 L232.5,367.34 L233.0,367.59 L233.5,367.85 L234.0,368.10 L234.5,368.36 L235.0,368.61 L235.5,368.86 L236.0,369.12 L236.5,369.37 L237.0,369.62 L237.5,369.87 L238.0,370.12 L238.5,370.37 L239.0,370.62 L239.5,370.86 L240.0,371.11 L240.5,371.36 L241.0,371.60 L241.5,371.85 L242.0,372.09 L242.5,372.34 L243.0,372.58 L243.5,372.82 L244.0,373.07 L244.5,373.31 L245.0,373.55 L245.5,373.79 L246.0,374.03 L246.5,374.27 L247.0,374.51 L247.5,374.75 L248.0,374.98 L248.5,375.22 L249.0,375.46 L249.5,375.69 L250.0,375.93 L250.5,376.16 L251.0,376.39 L251.5,376.63 L252.0,376.86 L252.5,377.09 L253.0,377.32 L253.5,377.56 L254.0,377.79 L254.5,378.02 L255.0,378.24 L255.5,378.47 L256.0,378.70 L256.5,378.93 L257.0,379.16 L257.5,379.38 L258.0,379.61 L258.5,379.83 L259.0,380.06 L259.5,380.28 L260.0,380.50 L260.5,380.73 L261.0,380.95 L261.5,381.17 L262.0,381.39 L262.5,381.61 L263.0,381.83 L263.5,382.05 L264.0,382.27 L264.5,382.49 L265.0,382.71 L265.5,382.92 L266.0,383.14 L266.5,383.35 L267.0,383.57 L267.5,383.79 L268.0,384.00 L268.5,384.21 L269.0,384.43 L269.5,384.64 L270.0,384.85 L270.5,385.06 L271.0,385.27 L271.5,385.48 L272.0,385.69 L272.5,385.90 L273.0,386.11 L273.5,386.32 L274.0,386.53 L274.5,386.73 L275.0,386.94 L275.5,387.15 L276.0,387.35 L276.5,387.56 L277.0,387.76 L277.5,387.97 L278.0,388.17 L278.5,388.38 L279.0,388.58 L279.5,388.78 L280.0,388.98 L280.5,389.18 L281.0,389.39 L281.5,389.59 L282.0,389.79 L282.5,389.99 L283.0,390.19 L283.5,390.38 L284.0,390.58 L284.5,390.78 L285.0,390.98 L285.5,391.18 L286.0,391.37 L286.5,391.57 L287.0,391.77 L287.5,391.96 L288.0,392.16 L288.5,392.35 L289.0,392.55 L289.5,392.74 L290.0,392.94 L290.5,393.13 L291.0,393.32 L291.5,393.52 L292.0,393.71 L292.5,393.90 L293.0,394.09 L293.5,394.28 L294.0,394.47 L294.5,394.67 L295.0,394.86 L295.5,395.05 L296.0,395.24 L296.5,395.43 L297.0,395.62 L297.5,395.80 L298.0,395.99 L298.5,396.18 L299.0,396.37 L299.5,396.56 L300.0,396.74 L300.5,396.93 L301.0,397.12 L301.5,397.30 L302.0,397.49 L302.5,397.68 L303.0,397.86 L303.5,398.05 L304.0,398.23 L304.5,398.42 L305.0,398.60 L305.5,398.79 L306.0,398.97 L306.5,399.16 L307.0,399.34 L307.5,399.52 L308.0,399.71 L308.5,399.89 L309.0,400.07 L309.5,400.25 L310.0,400.44 L310.5,400.62 L311.0,400.80 L311.5,400.98 L312.0,401.16 L312.5,401.34 L313.0,401.52 L313.5,401.71 L314.0,401.89 L314.5,402.07 L315.0,402.25 L315.5,402.43 L316.0,402.61 L316.5,402.78 L317.0,402.96 L317.5,403.14 L318.0,403.32 L318.5,403.50 L319.0,403.68 L319.5,403.86 L320.0,404.03 L320.5,404.21 L321.0,404.39 L321.5,404.57 L322.0,404.75 L322.5,404.92 L323.0,405.10 L323.5,405.28 L324.0,405.45 L324.5,405.63 L325.0,405.81 L325.5,405.98 L326.0,406.16 L326.5,406.33 L327.0,406.51 L327.5,406.68 L328.0,406.86 L328.5,407.04 L329.0,407.21 L329.5,407.39 L330.0,407.56 L330.5,407.74 L331.0,407.91 L331.5,408.08 L332.0,408.26 L332.5,408.43 L333.0,408.61 L333.5,408.78 L334.0,408.95 L334.5,409.13 L335.0,409.30 L335.5,409.47 L336.0,409.65 L336.5,409.82 L337.0,409.99 L337.5,410.17 L338.0,410.34 L338.5,410.51 L339.0,410.68 L339.5,410.86 L340.0,411.03 L340.5,411.20 L341.0,411.37 L341.5,411.55 L342.0,411.72 L342.5,411.87 L343.0,412.00 L343.5,412.13 L344.0,412.26 L344.5,412.39 L345.0,412.52 L345.5,412.65 L346.0,412.78 L346.5,412.91 L347.0,413.04 L347.5,413.18 L348.0,413.31 L348.5,413.44 L349.0,413.57 L349.5,413.71 L350.0,413.84 L350.5,413.98 L351.0,414.11 L351.5,414.25 L352.0,414.38 L352.5,414.52 L353.0,414.66 L353.5,414.79 L354.0,414.93 L354.5,415.07 L355.0,415.21 L355.5,415.34 L356.0,415.48 L356.5,415.62 L357.0,415.76 L357.5,415.90 L358.0,416.04 L358.5,416.18 L359.0,416.32 L359.5,416.46 L360.0,416.60 L360.5,416.74 L361.0,416.89 L361.5,417.03 L362.0,417.17 L362.5,417.31 L363.0,417.46 L363.5,417.60 L364.0,417.74 L364.5,417.89 L365.0,418.03 L365.5,418.18 L366.0,418.32 L366.5,418.47 L367.0,418.61 L367.5,418.76 L368.0,418.90 L368.5,419.05 L369.0,419.20 L369.5,419.34 L370.0,419.49 L370.5,419.64 L371.0,419.79 L371.5,419.93 L372.0,420.08 L372.5,420.23 L373.0,420.38 L373.5,420.53 L374.0,420.68 L374.5,420.83 L375.0,420.98 L375.5,421.13 L376.0,421.28 L376.5,421.43 L377.0,421.58 L377.5,421.73 L378.0,421.88 L378.5,422.03 L379.0,422.18 L379.5,422.33 L380.0,422.49 L380.5,422.64 L381.0,422.79 L381.5,422.94 L382.0,423.10 L382.5,423.25 L383.0,423.40 L383.5,423.56 L384.0,423.71 L384.5,423.86 L385.0,424.02 L385.5,424.17 L386.0,424.33 L386.5,424.48 L387.0,424.64 L387.5,424.79 L388.0,424.95 L388.5,425.10 L389.0,425.26 L389.5,425.41 L390.0,425.57 L390.5,425.73 L391.0,425.88 L391.5,426.04 L392.0,426.20 L392.5,426.35 L393.0,426.51 L393.5,426.67 L394.0,426.82 L394.5,426.98 L395.0,427.14 L395.5,427.30 L396.0,427.46 L396.5,427.61 L397.0,427.77 L397.5,427.93 L398.0,428.09 L398.5,428.25 L399.0,428.41 L399.5,428.57 L400.0,428.73 L400.5,428.89 L401.0,429.04 L401.5,429.20 L402.0,429.36 L402.5,429.52 L403.0,429.68 L403.5,429.84 L404.0,430.00 L404.5,430.17 L405.0,430.33 L405.5,430.49 L406.0,430.65 L406.5,430.81 L407.0,430.97 L407.5,431.13 L408.0,431.29 L408.5,431.45 L409.0,431.62 L409.5,431.78 L410.0,431.94 L410.5,432.10 L411.0,432.26 L411.5,432.43 L412.0,432.59 L412.5,432.75 L413.0,432.91 L413.5,433.08 L414.0,433.24 L414.5,433.40 L415.0,433.56 L415.5,433.73 L416.0,433.89 L416.5,434.05 L417.0,434.22 L417.5,434.38 L418.0,434.54 L418.5,434.71 L419.0,434.87 L419.5,435.03 L420.0,435.20 L420.5,435.36 L421.0,435.53 L421.5,435.69 L422.0,435.85 L422.5,436.02 L423.0,436.18 L423.5,436.35 L424.0,436.51 L424.5,436.68 L425.0,436.84 L425.5,437.00 L426.0,437.17 L426.5,437.33 L427.0,437.50 L427.5,437.66 L428.0,437.83 L428.5,437.99 L429.0,438.16 L429.5,438.32 L430.0,438.49 L430.5,438.65 L431.0,438.82 L431.5,438.99 L432.0,439.15 L432.5,439.32 L433.0,439.48 L433.5,439.65 L434.0,439.81 L434.5,439.98 L435.0,440.14 L435.5,440.31 L436.0,440.48 L436.5,440.64 L437.0,440.81 L437.5,440.97 L438.0,441.14 L438.5,441.31 L439.0,441.47 L439.5,441.64 L440.0,441.81 L440.5,441.97 L441.0,442.14 L441.5,442.31 L442.0,442.47 L442.5,442.64 L443.0,442.80 L443.5,442.97 L444.0,443.14 L444.5,443.31 L445.0,443.47 L445.5,443.64 L446.0,443.81 L446.5,443.97 L447.0,444.14 L447.5,444.31 L448.0,444.47 L448.5,444.64 L449.0,444.81 L449.5,444.98 L450.0,445.14 L450.5,445.31 L451.0,445.48 L451.5,445.65 L452.0,445.81 L452.5,445.98 L453.0,446.15 L453.5,446.32 L454.0,446.49 L454.5,446.65 L455.0,446.82 L455.5,446.99 L456.0,447.16 L456.5,447.33 L457.0,447.49 L457.5,447.66 L458.0,447.83 L458.5,448.00 L459.0,448.17 L459.5,448.34 L460.0,448.50 L460.5,448.67 L461.0,448.84 L461.5,449.01 L462.0,449.18 L462.5,449.35 L463.0,449.52 L463.5,449.68 L464.0,449.85 L464.5,450.02 L465.0,450.19 L465.5,450.36 L466.0,450.53 L466.5,450.70 L467.0,450.87 L467.5,451.04 L468.0,451.21 L468.5,451.38 L469.0,451.55 L469.5,451.72 L470.0,451.88 L470.5,452.05 L471.0,452.22 L471.5,452.39 L472.0,452.56 L472.5,452.73 L473.0,452.90 L473.5,453.07 L474.0,453.24 L474.5,453.41 L475.0,453.58 L475.5,453.75 L476.0,453.92 L476.5,454.09 L477.0,454.26 L477.5,454.43 L478.0,454.60 L478.5,454.77 L479.0,454.95 L479.5,455.12 L480.0,455.29 L480.5,455.46 L481.0,455.63 L481.5,455.80 L482.0,455.97 L482.5,456.14 L483.0,456.31 L483.5,456.48 L484.0,456.65 L484.5,456.82 L485.0,456.99 L485.5,457.17 L486.0,457.34 L486.5,457.51 L487.0,457.68 L487.5,457.85 L488.0,458.02 L488.5,458.19 L489.0,458.36 L489.5,458.54 L490.0,458.71 L490.5,458.88 L491.0,459.05 L491.5,459.22 L492.0,459.39 L492.5,459.57 L493.0,459.74 L493.5,459.91 L494.0,460.08 L494.5,460.25 L495.0,460.43 L495.5,460.60 L496.0,460.77 L496.5,460.94 L497.0,461.11 L497.5,461.29 L498.0,461.46 L498.5,461.63 L499.0,461.80 L499.5,461.98 L500.0,462.15 L500.5,462.32 L501.0,462.49 L501.5,462.67 L502.0,462.84 L502.5,463.01 L503.0,463.19 L503.5,463.36 L504.0,463.53 L504.5,463.70 L505.0,463.88 L505.5,464.05 L506.0,464.22 L506.5,464.40 L507.0,464.57 L507.5,464.74 L508.0,464.92 L508.5,465.09 L509.0,465.26 L509.5,465.44 L510.0,465.61 L510.5,465.78 L511.0,465.96 L511.5,466.13 L512.0,466.30 L512.5,466.48 L513.0,466.65 L513.5,466.83 L514.0,467.00 L514.5,467.17 L515.0,467.35 L515.5,467.52 L516.0,467.70 L516.5,467.87 L517.0,468.04 L517.5,468.22 L518.0,468.39 L518.5,468.57 L519.0,468.74 L519.5,468.92 L520.0,469.09 L520.5,469.26 L521.0,469.44 L521.5,469.61 L522.0,469.79 L522.5,469.96 L523.0,470.14 L523.5,470.31 L524.0,470.49 L524.5,470.66 L525.0,470.84 L525.5,471.01 L526.0,471.19 L526.5,471.36 L527.0,471.54 L527.5,471.71 L528.0,471.89 L528.5,472.06 L529.0,472.24 L529.5,472.41 L530.0,472.59 L530.5,472.76 L531.0,472.94 L531.5,473.11 L532.0,473.29 L532.5,473.47 L533.0,473.64 L533.5,473.82 L534.0,473.99 L534.5,474.17 L535.0,474.34 L535.5,474.52 L536.0,474.70 L536.5,474.87 L537.0,475.05 L537.5,475.22 L538.0,475.40 L538.5,475.58 L539.0,475.75 L539.5,475.93 L540.0,476.10 L540.5,476.28 L541.0,476.46 L541.5,476.63 L542.0,476.81 L542.5,476.99 L543.0,477.16 L543.5,477.34 L544.0,477.52 L544.5,477.69 L545.0,477.87 L545.5,478.05 L546.0,478.22 L546.5,478.40 L547.0,478.58 L547.5,478.75 L548.0,478.93 L548.5,479.11 L549.0,479.29 L549.5,479.46 L550.0,479.64 L550.5,479.82 L551.0,480.00 L551.5,480.17 L552.0,480.35 L552.5,480.53 L553.0,480.71 L553.5,480.88 L554.0,481.06 L554.5,481.24 L555.0,481.42 L555.5,481.60 L556.0,481.77 L556.5,481.95 L557.0,482.13 L557.5,482.31 L558.0,482.49 L558.5,482.67 L559.0,482.84 L559.5,483.02 L560.0,483.20 L560.5,483.38 L561.0,483.56 L561.5,483.74 L562.0,483.92 L562.5,484.09 L563.0,484.27 L563.5,484.45 L564.0,484.63 L564.5,484.81 L565.0,484.99 L565.5,485.17 L566.0,485.35 L566.5,485.53 L567.0,485.71 L567.5,485.89 L568.0,486.07 L568.5,486.25 L569.0,486.43 L569.5,486.61 L570.0,486.79 L570.5,486.97 L571.0,487.15 L571.5,487.33 L572.0,487.51 L572.5,487.69 L573.0,487.87 L573.5,488.05 L574.0,488.23 L574.5,488.41 L575.0,488.59 L575.5,488.77 L576.0,488.95 L576.5,489.13 L577.0,489.31 L577.5,489.50 L578.0,489.68 L578.5,489.86 L579.0,490.04 L579.5,490.22 L580.0,490.40 L580.5,490.58 L581.0,490.76 L581.5,490.95 L582.0,491.13 L582.5,491.31 L583.0,491.49 L583.5,491.67 L584.0,491.86 L584.5,492.04 L585.0,492.22 L585.5,492.40 L586.0,492.59 L586.5,492.77 L587.0,492.95 L587.5,493.13 L588.0,493.32 L588.5,493.50 L589.0,493.68 L589.5,493.86 L590.0,494.05 L590.5,494.23 L591.0,494.41 L591.5,494.60 L592.0,494.78 L592.5,494.96 L593.0,495.15 L593.5,495.33 L594.0,495.52 L594.5,495.70 L595.0,495.88 L595.5,496.07 L596.0,496.25 L596.5,496.44 L597.0,496.62 L597.5,496.80 L598.0,496.99 L598.5,497.17 L599.0,497.36 L599.5,497.54 L600.0,497.73 L600.5,497.91 L601.0,498.10 L601.5,498.28 L602.0,498.47 L602.5,498.65 L603.0,498.84 L603.5,499.02 L604.0,499.21 L604.5,499.40 L605.0,499.58 L605.5,499.77 L606.0,499.95 L606.5,500.14 L607.0,500.32 L607.5,500.51 L608.0,500.70 L608.5,500.88 L609.0,501.07 L609.5,501.26 L610.0,501.44 L610.5,501.63 L611.0,501.82 L611.5,502.00 L612.0,502.19 L612.5,502.38 L613.0,502.57 L613.5,502.75 L614.0,502.94 L614.5,503.13 L615.0,503.32 L615.5,503.50 L616.0,503.69 L616.5,503.88 L617.0,504.07 L617.5,504.26 L618.0,504.44 L618.5,504.63 L619.0,504.82 L619.5,505.01 L620.0,505.20 L620.5,505.39 L621.0,505.57 L621.5,505.76 L622.0,505.95 L622.5,506.14 L623.0,506.33 L623.5,506.52 L624.0,506.71 L624.5,506.90 L625.0,507.09 L625.5,507.28 L626.0,507.47 L626.5,507.66 L627.0,507.85 L627.5,508.04 L628.0,508.23 L628.5,508.42 L629.0,508.61 L629.5,508.80 L630.0,508.99 L630.5,509.18 L631.0,509.37 L631.5,509.56 L632.0,509.75 L632.5,509.94 L633.0,510.14 L633.5,510.33 L634.0,510.52 L634.5,510.71 L635.0,510.90 L635.5,511.09 L636.0,511.29 L636.5,511.48 L637.0,511.67 L637.5,511.86 L638.0,512.05 L638.5,512.25 L639.0,512.44 L639.5,512.63 L640.0,512.82 L640.5,513.02 L641.0,513.21 L641.5,513.40 L642.0,513.60 L642.5,513.79 L643.0,513.98 L643.5,514.18 L644.0,514.37 L644.5,514.56 L645.0,514.76 L645.5,514.95 L646.0,515.15 L646.5,515.34 L647.0,515.53 L647.5,515.73 L648.0,515.92 L648.5,516.12 L649.0,516.31 L649.5,516.51 L650.0,516.70 L650.5,516.90 L651.0,517.09 L651.5,517.29 L652.0,517.48 L652.5,517.68 L653.0,517.87 L653.5,518.07 L654.0,518.27 L654.5,518.46 L655.0,518.66 L655.5,518.85" stroke="#008000" stroke-dasharray="7.1 4.8"/>
</g>
<g stroke="#000" stroke-width="2.4" fill="none" stroke-linecap="butt">
<path d="M700,276.8 H151.0 V738.8 H700" stroke-linejoin="miter"/>
<path d="M342.6,738.8 v-12"/><path d="M342.6,276.8 v12"/>
<path d="M534.1,738.8 v-12"/><path d="M534.1,276.8 v12"/>
<path d="M725.6,738.8 v-12"/><path d="M725.6,276.8 v12"/>
<path d="M246.8,738.8 v-6.8"/><path d="M246.8,276.8 v6.8"/>
<path d="M438.3,738.8 v-6.8"/><path d="M438.3,276.8 v6.8"/>
<path d="M629.9,738.8 v-6.8"/><path d="M629.9,276.8 v6.8"/>
<path d="M151.0,320.8 h12"/>
<path d="M151.0,496.9 h12"/>
<path d="M151.0,673.0 h12"/>
<path d="M151.0,408.9 h6.8"/>
<path d="M151.0,585.0 h6.8"/>
</g>
<g class="t">
<text transform="translate(150.6,768.4) rotate(0.03) scale(1.02,1)" font-size="22.3" text-anchor="middle">0</text>
<text transform="translate(342.2,768.4) rotate(0.03) scale(1.02,1)" font-size="22.3" text-anchor="middle">100</text>
<text transform="translate(533.7,768.4) rotate(0.03) scale(1.02,1)" font-size="22.3" text-anchor="middle">200</text>
<text transform="translate(138.4,326.9) rotate(0.03) scale(1.02,1)" font-size="22.3" text-anchor="end">0</text>
<text transform="translate(138.4,503.0) rotate(0.03) scale(1.02,1)" font-size="22.3" text-anchor="end">-20</text>
<text transform="translate(138.4,679.1) rotate(0.03) scale(1.02,1)" font-size="22.3" text-anchor="end">-40</text>
<text transform="translate(409.4,810.5) rotate(0.03) scale(1.06,1)" font-size="25">T (K)</text>
<text transform="translate(85.2,575.6) rotate(-90)" style="font-family:&quot;Liberation Sans&quot;" font-size="26.3">S (</text>
<text transform="translate(85.2,541.6) rotate(-90)" style="font-family:&quot;Liberation Serif&quot;" font-size="24.6">μ</text>
<text transform="translate(85.2,527.8) rotate(-90)" style="font-family:&quot;Liberation Sans&quot;" font-size="26.3">V/K)</text>
<text transform="translate(227.2,319.6) rotate(0.03) scale(1.045,1)" font-size="25">Ba(Fe</text>
<text transform="translate(299.0,329.1) rotate(0.03) scale(1.06,1)" font-size="15">1-x</text>
<text transform="translate(320.4,319.6) rotate(0.03) scale(1.06,1)" font-size="25">Co</text>
<text transform="translate(353.4,329.1) rotate(0.03) scale(1.06,1)" font-size="15">x</text>
<text transform="translate(362.0,319.6) rotate(0.03) scale(1.06,1)" font-size="25">)</text>
<text transform="translate(370.2,329.1) rotate(0.03) scale(1.06,1)" font-size="15">2</text>
<text transform="translate(378.2,319.6) rotate(0.03) scale(1.06,1)" font-size="25">As</text>
<text transform="translate(409.2,329.1) rotate(0.03) scale(1.06,1)" font-size="15">2</text>
</g>
<g fill="none" stroke-width="1.55">
<path d="M605.8,303.7 H647.9" stroke="#000000"/>
<path d="M605.8,326.15 H647.9" stroke="#ff0000" stroke-dasharray="6.6 4.75"/>
<path d="M605.8,348.7 H647.9" stroke="#00ff00"/>
<path d="M605.8,370.6 H647.9" stroke="#0000ff" stroke-dasharray="6.6 4.75"/>
<path d="M605.8,393.0 H647.9" stroke="#ff00ff"/>
<path d="M605.8,415.5 H647.9" stroke="#808000" stroke-dasharray="6.6 4.75"/>
<path d="M605.8,437.8 H647.9" stroke="#800080"/>
<path d="M605.8,460.2 H647.9" stroke="#008000" stroke-dasharray="6.6 4.75"/>
</g>
<g class="t">
<text transform="translate(652.1,311.7) rotate(0.03) scale(1.06,1)" font-size="22">0.13</text>
<text transform="translate(652.1,334.1) rotate(0.03) scale(1.06,1)" font-size="22">0.14</text>
<text transform="translate(652.1,356.7) rotate(0.03) scale(1.06,1)" font-size="22">0.166</text>
<text transform="translate(652.1,378.6) rotate(0.03) scale(1.06,1)" font-size="22">0.17</text>
<text transform="translate(652.1,401.0) rotate(0.03) scale(1.06,1)" font-size="22">0.2</text>
<text transform="translate(652.1,423.5) rotate(0.03) scale(1.06,1)" font-size="22">0.24</text>
<text transform="translate(652.1,445.8) rotate(0.03) scale(1.06,1)" font-size="22">0.33</text>
<text transform="translate(652.1,468.2) rotate(0.03) scale(1.06,1)" font-size="22">0.42</text>
</g>
</svg>
</body></html>
